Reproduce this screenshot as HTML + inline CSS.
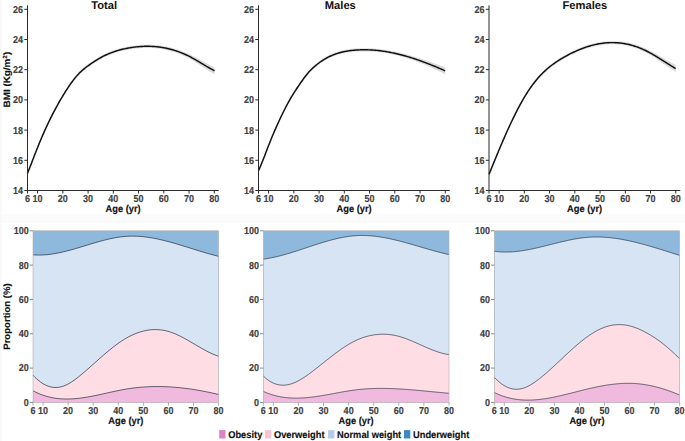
<!DOCTYPE html>
<html><head><meta charset="utf-8"><style>
html,body{margin:0;padding:0;background:#fff;}
svg{display:block;}
text{font-family:"Liberation Sans", sans-serif;text-rendering:geometricPrecision;}
.tk{font-size:9px;fill:#404040;font-weight:bold;stroke:#404040;stroke-width:0.15px;}
.lab{font-size:9.3px;fill:#111;font-weight:bold;stroke:#111;stroke-width:0.15px;}
.ttl{font-size:11.2px;fill:#111;font-weight:bold;}
</style></head><body>
<svg width="685" height="441" viewBox="0 0 685 441">
<rect x="0" y="0" width="685" height="441" fill="#fff"/>
<rect x="0" y="214" width="685" height="9" fill="#fbfbfb"/>
<rect x="0" y="0" width="1.5" height="441" fill="#f8f8f8"/>
<path d="M27.40,170.81 L28.40,168.47 L29.40,166.07 L30.40,163.60 L31.40,161.10 L32.40,158.56 L33.40,156.02 L34.40,153.47 L35.40,150.94 L36.40,148.45 L37.40,145.99 L38.40,143.57 L39.40,141.20 L40.40,138.86 L41.40,136.57 L42.40,134.31 L43.40,132.03 L44.40,129.78 L45.40,127.57 L46.40,125.39 L47.40,123.25 L48.40,121.14 L49.40,119.07 L50.40,117.03 L51.40,115.02 L52.40,113.05 L53.40,111.10 L54.40,109.19 L55.40,107.31 L56.40,105.46 L57.40,103.64 L58.40,101.85 L59.40,100.09 L60.40,98.35 L61.40,96.65 L62.40,94.97 L63.40,93.32 L64.40,91.70 L65.40,90.11 L66.40,88.54 L67.40,87.00 L68.40,85.49 L69.40,84.02 L70.40,82.57 L71.40,81.17 L72.40,79.80 L73.40,78.48 L74.40,77.19 L75.40,75.96 L76.40,74.76 L77.40,73.62 L78.40,72.53 L79.40,71.49 L80.40,70.50 L81.40,69.56 L82.40,68.67 L83.40,67.81 L84.40,66.99 L85.40,66.20 L86.40,65.44 L87.40,64.69 L88.40,63.96 L89.40,63.24 L90.40,62.53 L91.40,61.84 L92.40,61.15 L93.40,60.48 L94.40,59.82 L95.40,59.18 L96.40,58.55 L97.40,57.93 L98.40,57.33 L99.40,56.75 L100.40,56.19 L101.40,55.64 L102.40,55.12 L103.40,54.60 L104.40,54.11 L105.40,53.63 L106.40,53.17 L107.40,52.72 L108.40,52.29 L109.40,51.87 L110.40,51.47 L111.40,51.08 L112.40,50.71 L113.40,50.35 L114.40,50.00 L115.40,49.67 L116.40,49.35 L117.40,49.05 L118.40,48.75 L119.40,48.47 L120.40,48.20 L121.40,47.94 L122.40,47.70 L123.40,47.46 L124.40,47.24 L125.40,47.02 L126.40,46.82 L127.40,46.62 L128.40,46.44 L129.40,46.26 L130.40,46.10 L131.40,45.94 L132.40,45.79 L133.40,45.65 L134.40,45.52 L135.40,45.40 L136.40,45.29 L137.40,45.19 L138.40,45.09 L139.40,45.01 L140.40,44.94 L141.40,44.87 L142.40,44.82 L143.40,44.78 L144.40,44.74 L145.40,44.72 L146.40,44.70 L147.40,44.70 L148.40,44.71 L149.40,44.72 L150.40,44.75 L151.40,44.79 L152.40,44.84 L153.40,44.90 L154.40,44.97 L155.40,45.05 L156.40,45.14 L157.40,45.24 L158.40,45.35 L159.40,45.48 L160.40,45.61 L161.40,45.76 L162.40,45.91 L163.40,46.08 L164.40,46.25 L165.40,46.44 L166.40,46.63 L167.40,46.84 L168.40,47.06 L169.40,47.29 L170.40,47.53 L171.40,47.78 L172.40,48.04 L173.40,48.31 L174.40,48.59 L175.40,48.89 L176.40,49.19 L177.40,49.51 L178.40,49.84 L179.40,50.18 L180.40,50.53 L181.40,50.90 L182.40,51.27 L183.40,51.66 L184.40,52.06 L185.40,52.47 L186.40,52.90 L187.40,53.33 L188.40,53.78 L189.40,54.24 L190.40,54.72 L191.40,55.21 L192.40,55.70 L193.40,56.21 L194.40,56.73 L195.40,57.25 L196.40,57.78 L197.40,58.31 L198.40,58.85 L199.40,59.40 L200.40,59.94 L201.40,60.49 L202.40,61.03 L203.40,61.57 L204.40,62.12 L205.40,62.66 L206.40,63.19 L207.40,63.72 L208.40,64.24 L209.40,64.75 L210.40,65.26 L211.40,65.75 L212.40,66.24 L213.40,66.71 L214.40,67.17 L214.50,67.21 L214.50,74.40 L214.40,74.34 L213.40,73.74 L212.40,73.13 L211.40,72.51 L210.40,71.88 L209.40,71.25 L208.40,70.60 L207.40,69.96 L206.40,69.31 L205.40,68.65 L204.40,68.00 L203.40,67.34 L202.40,66.68 L201.40,66.03 L200.40,65.37 L199.40,64.72 L198.40,64.08 L197.40,63.44 L196.40,62.80 L195.40,62.18 L194.40,61.56 L193.40,60.96 L192.40,60.36 L191.40,59.78 L190.40,59.21 L189.40,58.66 L188.40,58.12 L187.40,57.60 L186.40,57.09 L185.40,56.59 L184.40,56.11 L183.40,55.65 L182.40,55.20 L181.40,54.76 L180.40,54.34 L179.40,53.94 L178.40,53.54 L177.40,53.16 L176.40,52.80 L175.40,52.45 L174.40,52.11 L173.40,51.79 L172.40,51.48 L171.40,51.19 L170.40,50.91 L169.40,50.64 L168.40,50.38 L167.40,50.14 L166.40,49.91 L165.40,49.70 L164.40,49.50 L163.40,49.31 L162.40,49.13 L161.40,48.97 L160.40,48.82 L159.40,48.68 L158.40,48.55 L157.40,48.44 L156.40,48.34 L155.40,48.25 L154.40,48.17 L153.40,48.10 L152.40,48.04 L151.40,47.99 L150.40,47.95 L149.40,47.92 L148.40,47.91 L147.40,47.90 L146.40,47.90 L145.40,47.92 L144.40,47.94 L143.40,47.98 L142.40,48.02 L141.40,48.07 L140.40,48.14 L139.40,48.21 L138.40,48.29 L137.40,48.39 L136.40,48.49 L135.40,48.60 L134.40,48.72 L133.40,48.85 L132.40,48.99 L131.40,49.14 L130.40,49.30 L129.40,49.46 L128.40,49.64 L127.40,49.82 L126.40,50.02 L125.40,50.22 L124.40,50.44 L123.40,50.66 L122.40,50.90 L121.40,51.14 L120.40,51.40 L119.40,51.67 L118.40,51.95 L117.40,52.25 L116.40,52.55 L115.40,52.87 L114.40,53.20 L113.40,53.55 L112.40,53.91 L111.40,54.28 L110.40,54.67 L109.40,55.07 L108.40,55.49 L107.40,55.92 L106.40,56.37 L105.40,56.83 L104.40,57.31 L103.40,57.80 L102.40,58.32 L101.40,58.84 L100.40,59.39 L99.40,59.95 L98.40,60.53 L97.40,61.13 L96.40,61.75 L95.40,62.38 L94.40,63.02 L93.40,63.68 L92.40,64.35 L91.40,65.04 L90.40,65.73 L89.40,66.44 L88.40,67.16 L87.40,67.89 L86.40,68.64 L85.40,69.40 L84.40,70.19 L83.40,71.01 L82.40,71.87 L81.40,72.76 L80.40,73.70 L79.40,74.69 L78.40,75.73 L77.40,76.82 L76.40,77.96 L75.40,79.16 L74.40,80.39 L73.40,81.68 L72.40,83.00 L71.40,84.37 L70.40,85.77 L69.40,87.22 L68.40,88.69 L67.40,90.20 L66.40,91.74 L65.40,93.31 L64.40,94.90 L63.40,96.52 L62.40,98.17 L61.40,99.85 L60.40,101.55 L59.40,103.29 L58.40,105.05 L57.40,106.84 L56.40,108.66 L55.40,110.51 L54.40,112.39 L53.40,114.30 L52.40,116.25 L51.40,118.22 L50.40,120.23 L49.40,122.27 L48.40,124.34 L47.40,126.45 L46.40,128.59 L45.40,130.77 L44.40,132.98 L43.40,135.23 L42.40,137.52 L41.40,139.91 L40.40,142.34 L39.40,144.81 L38.40,147.32 L37.40,149.87 L36.40,152.46 L35.40,155.09 L34.40,157.75 L33.40,160.43 L32.40,163.11 L31.40,165.78 L30.40,168.42 L29.40,171.01 L28.40,173.55 L27.40,176.02 Z" fill="#bdbdbd" fill-opacity="0.55"/>
<path d="M27.40,173.42 L28.40,171.01 L29.40,168.54 L30.40,166.01 L31.40,163.44 L32.40,160.84 L33.40,158.22 L34.40,155.61 L35.40,153.02 L36.40,150.45 L37.40,147.93 L38.40,145.44 L39.40,143.00 L40.40,140.60 L41.40,138.24 L42.40,135.91 L43.40,133.63 L44.40,131.38 L45.40,129.17 L46.40,126.99 L47.40,124.85 L48.40,122.74 L49.40,120.67 L50.40,118.63 L51.40,116.62 L52.40,114.65 L53.40,112.70 L54.40,110.79 L55.40,108.91 L56.40,107.06 L57.40,105.24 L58.40,103.45 L59.40,101.69 L60.40,99.95 L61.40,98.25 L62.40,96.57 L63.40,94.92 L64.40,93.30 L65.40,91.71 L66.40,90.14 L67.40,88.60 L68.40,87.09 L69.40,85.62 L70.40,84.17 L71.40,82.77 L72.40,81.40 L73.40,80.08 L74.40,78.79 L75.40,77.56 L76.40,76.36 L77.40,75.22 L78.40,74.13 L79.40,73.09 L80.40,72.10 L81.40,71.16 L82.40,70.27 L83.40,69.41 L84.40,68.59 L85.40,67.80 L86.40,67.04 L87.40,66.29 L88.40,65.56 L89.40,64.84 L90.40,64.13 L91.40,63.44 L92.40,62.75 L93.40,62.08 L94.40,61.42 L95.40,60.78 L96.40,60.15 L97.40,59.53 L98.40,58.93 L99.40,58.35 L100.40,57.79 L101.40,57.24 L102.40,56.72 L103.40,56.20 L104.40,55.71 L105.40,55.23 L106.40,54.77 L107.40,54.32 L108.40,53.89 L109.40,53.47 L110.40,53.07 L111.40,52.68 L112.40,52.31 L113.40,51.95 L114.40,51.60 L115.40,51.27 L116.40,50.95 L117.40,50.65 L118.40,50.35 L119.40,50.07 L120.40,49.80 L121.40,49.54 L122.40,49.30 L123.40,49.06 L124.40,48.84 L125.40,48.62 L126.40,48.42 L127.40,48.22 L128.40,48.04 L129.40,47.86 L130.40,47.70 L131.40,47.54 L132.40,47.39 L133.40,47.25 L134.40,47.12 L135.40,47.00 L136.40,46.89 L137.40,46.79 L138.40,46.69 L139.40,46.61 L140.40,46.54 L141.40,46.47 L142.40,46.42 L143.40,46.38 L144.40,46.34 L145.40,46.32 L146.40,46.30 L147.40,46.30 L148.40,46.31 L149.40,46.32 L150.40,46.35 L151.40,46.39 L152.40,46.44 L153.40,46.50 L154.40,46.57 L155.40,46.65 L156.40,46.74 L157.40,46.84 L158.40,46.95 L159.40,47.08 L160.40,47.22 L161.40,47.36 L162.40,47.52 L163.40,47.69 L164.40,47.87 L165.40,48.07 L166.40,48.27 L167.40,48.49 L168.40,48.72 L169.40,48.96 L170.40,49.22 L171.40,49.48 L172.40,49.76 L173.40,50.05 L174.40,50.35 L175.40,50.67 L176.40,51.00 L177.40,51.34 L178.40,51.69 L179.40,52.06 L180.40,52.44 L181.40,52.83 L182.40,53.24 L183.40,53.65 L184.40,54.09 L185.40,54.53 L186.40,54.99 L187.40,55.47 L188.40,55.95 L189.40,56.45 L190.40,56.97 L191.40,57.49 L192.40,58.03 L193.40,58.58 L194.40,59.14 L195.40,59.71 L196.40,60.29 L197.40,60.88 L198.40,61.46 L199.40,62.06 L200.40,62.66 L201.40,63.26 L202.40,63.86 L203.40,64.46 L204.40,65.06 L205.40,65.65 L206.40,66.25 L207.40,66.84 L208.40,67.42 L209.40,68.00 L210.40,68.57 L211.40,69.13 L212.40,69.68 L213.40,70.22 L214.40,70.75 L214.50,70.80" fill="none" stroke="#111" stroke-width="1.45" stroke-linejoin="round"/>
<line x1="27.50" y1="5.3" x2="27.50" y2="191.00" stroke="#2b2b2b" stroke-width="1"/>
<line x1="27.00" y1="190.50" x2="218.80" y2="190.50" stroke="#2b2b2b" stroke-width="1"/>
<line x1="24.30" y1="190.50" x2="27.50" y2="190.50" stroke="#2b2b2b" stroke-width="1"/>
<text transform="translate(23.10,193.90) scale(1.0,1.12)" text-anchor="end" class="tk">14</text>
<line x1="24.30" y1="160.30" x2="27.50" y2="160.30" stroke="#2b2b2b" stroke-width="1"/>
<text transform="translate(23.10,163.70) scale(1.0,1.12)" text-anchor="end" class="tk">16</text>
<line x1="24.30" y1="130.10" x2="27.50" y2="130.10" stroke="#2b2b2b" stroke-width="1"/>
<text transform="translate(23.10,133.50) scale(1.0,1.12)" text-anchor="end" class="tk">18</text>
<line x1="24.30" y1="99.90" x2="27.50" y2="99.90" stroke="#2b2b2b" stroke-width="1"/>
<text transform="translate(23.10,103.30) scale(1.0,1.12)" text-anchor="end" class="tk">20</text>
<line x1="24.30" y1="69.70" x2="27.50" y2="69.70" stroke="#2b2b2b" stroke-width="1"/>
<text transform="translate(23.10,73.10) scale(1.0,1.12)" text-anchor="end" class="tk">22</text>
<line x1="24.30" y1="39.50" x2="27.50" y2="39.50" stroke="#2b2b2b" stroke-width="1"/>
<text transform="translate(23.10,42.90) scale(1.0,1.12)" text-anchor="end" class="tk">24</text>
<line x1="24.30" y1="9.30" x2="27.50" y2="9.30" stroke="#2b2b2b" stroke-width="1"/>
<text transform="translate(23.10,12.70) scale(1.0,1.12)" text-anchor="end" class="tk">26</text>
<line x1="27.50" y1="190.50" x2="27.50" y2="193.50" stroke="#2b2b2b" stroke-width="1"/>
<text transform="translate(27.50,201.80) scale(1.0,1.12)" text-anchor="middle" class="tk">6</text>
<line x1="37.60" y1="190.50" x2="37.60" y2="193.50" stroke="#2b2b2b" stroke-width="1"/>
<text transform="translate(37.60,201.80) scale(1.0,1.12)" text-anchor="middle" class="tk">10</text>
<line x1="62.84" y1="190.50" x2="62.84" y2="193.50" stroke="#2b2b2b" stroke-width="1"/>
<text transform="translate(62.84,201.80) scale(1.0,1.12)" text-anchor="middle" class="tk">20</text>
<line x1="88.08" y1="190.50" x2="88.08" y2="193.50" stroke="#2b2b2b" stroke-width="1"/>
<text transform="translate(88.08,201.80) scale(1.0,1.12)" text-anchor="middle" class="tk">30</text>
<line x1="113.32" y1="190.50" x2="113.32" y2="193.50" stroke="#2b2b2b" stroke-width="1"/>
<text transform="translate(113.32,201.80) scale(1.0,1.12)" text-anchor="middle" class="tk">40</text>
<line x1="138.56" y1="190.50" x2="138.56" y2="193.50" stroke="#2b2b2b" stroke-width="1"/>
<text transform="translate(138.56,201.80) scale(1.0,1.12)" text-anchor="middle" class="tk">50</text>
<line x1="163.80" y1="190.50" x2="163.80" y2="193.50" stroke="#2b2b2b" stroke-width="1"/>
<text transform="translate(163.80,201.80) scale(1.0,1.12)" text-anchor="middle" class="tk">60</text>
<line x1="189.04" y1="190.50" x2="189.04" y2="193.50" stroke="#2b2b2b" stroke-width="1"/>
<text transform="translate(189.04,201.80) scale(1.0,1.12)" text-anchor="middle" class="tk">70</text>
<line x1="214.28" y1="190.50" x2="214.28" y2="193.50" stroke="#2b2b2b" stroke-width="1"/>
<text transform="translate(214.28,201.80) scale(1.0,1.12)" text-anchor="middle" class="tk">80</text>
<text transform="translate(123.15,211.50) scale(1.0,1.06)" text-anchor="middle" class="lab">Age (yr)</text>
<text transform="translate(104.10,8.60)" text-anchor="middle" class="ttl">Total</text>
<path d="M258.60,167.91 L259.60,165.73 L260.60,163.46 L261.60,161.11 L262.60,158.70 L263.60,156.23 L264.60,153.72 L265.60,151.19 L266.60,148.64 L267.60,146.10 L268.60,143.58 L269.60,141.08 L270.60,138.63 L271.60,136.23 L272.60,133.89 L273.60,131.59 L274.60,129.27 L275.60,126.99 L276.60,124.74 L277.60,122.53 L278.60,120.34 L279.60,118.18 L280.60,116.05 L281.60,113.96 L282.60,111.90 L283.60,109.87 L284.60,107.89 L285.60,105.94 L286.60,104.03 L287.60,102.16 L288.60,100.33 L289.60,98.55 L290.60,96.82 L291.60,95.12 L292.60,93.46 L293.60,91.84 L294.60,90.25 L295.60,88.70 L296.60,87.17 L297.60,85.67 L298.60,84.19 L299.60,82.73 L300.60,81.29 L301.60,79.87 L302.60,78.46 L303.60,77.06 L304.60,75.70 L305.60,74.38 L306.60,73.11 L307.60,71.90 L308.60,70.76 L309.60,69.68 L310.60,68.65 L311.60,67.66 L312.60,66.70 L313.60,65.78 L314.60,64.88 L315.60,64.02 L316.60,63.19 L317.60,62.39 L318.60,61.61 L319.60,60.87 L320.60,60.15 L321.60,59.46 L322.60,58.80 L323.60,58.17 L324.60,57.56 L325.60,56.97 L326.60,56.41 L327.60,55.88 L328.60,55.36 L329.60,54.87 L330.60,54.41 L331.60,53.96 L332.60,53.54 L333.60,53.14 L334.60,52.76 L335.60,52.40 L336.60,52.05 L337.60,51.73 L338.60,51.42 L339.60,51.14 L340.60,50.87 L341.60,50.61 L342.60,50.37 L343.60,50.15 L344.60,49.94 L345.60,49.75 L346.60,49.57 L347.60,49.41 L348.60,49.25 L349.60,49.11 L350.60,48.98 L351.60,48.86 L352.60,48.76 L353.60,48.66 L354.60,48.57 L355.60,48.49 L356.60,48.42 L357.60,48.36 L358.60,48.31 L359.60,48.27 L360.60,48.23 L361.60,48.20 L362.60,48.19 L363.60,48.18 L364.60,48.17 L365.60,48.18 L366.60,48.20 L367.60,48.22 L368.60,48.25 L369.60,48.29 L370.60,48.34 L371.60,48.39 L372.60,48.46 L373.60,48.53 L374.60,48.60 L375.60,48.69 L376.60,48.78 L377.60,48.88 L378.60,48.99 L379.60,49.11 L380.60,49.23 L381.60,49.36 L382.60,49.50 L383.60,49.64 L384.60,49.79 L385.60,49.95 L386.60,50.11 L387.60,50.29 L388.60,50.46 L389.60,50.65 L390.60,50.84 L391.60,51.03 L392.60,51.24 L393.60,51.44 L394.60,51.65 L395.60,51.87 L396.60,52.09 L397.60,52.31 L398.60,52.54 L399.60,52.78 L400.60,53.02 L401.60,53.26 L402.60,53.51 L403.60,53.76 L404.60,54.02 L405.60,54.28 L406.60,54.55 L407.60,54.82 L408.60,55.09 L409.60,55.37 L410.60,55.65 L411.60,55.93 L412.60,56.22 L413.60,56.51 L414.60,56.81 L415.60,57.11 L416.60,57.41 L417.60,57.72 L418.60,58.03 L419.60,58.34 L420.60,58.66 L421.60,58.98 L422.60,59.30 L423.60,59.63 L424.60,59.96 L425.60,60.29 L426.60,60.62 L427.60,60.96 L428.60,61.30 L429.60,61.64 L430.60,61.99 L431.60,62.33 L432.60,62.68 L433.60,63.03 L434.60,63.39 L435.60,63.74 L436.60,64.10 L437.60,64.46 L438.60,64.82 L439.60,65.19 L440.60,65.55 L441.60,65.92 L442.60,66.29 L443.60,66.66 L444.60,67.03 L445.20,67.26 L445.20,74.40 L444.60,74.09 L443.60,73.58 L442.60,73.08 L441.60,72.57 L440.60,72.07 L439.60,71.58 L438.60,71.09 L437.60,70.60 L436.60,70.12 L435.60,69.65 L434.60,69.17 L433.60,68.71 L432.60,68.24 L431.60,67.79 L430.60,67.33 L429.60,66.88 L428.60,66.44 L427.60,66.00 L426.60,65.57 L425.60,65.14 L424.60,64.72 L423.60,64.31 L422.60,63.90 L421.60,63.49 L420.60,63.09 L419.60,62.70 L418.60,62.31 L417.60,61.92 L416.60,61.55 L415.60,61.18 L414.60,60.81 L413.60,60.45 L412.60,60.10 L411.60,59.75 L410.60,59.41 L409.60,59.08 L408.60,58.75 L407.60,58.43 L406.60,58.12 L405.60,57.81 L404.60,57.51 L403.60,57.22 L402.60,56.93 L401.60,56.65 L400.60,56.38 L399.60,56.11 L398.60,55.85 L397.60,55.60 L396.60,55.35 L395.60,55.12 L394.60,54.89 L393.60,54.66 L392.60,54.45 L391.60,54.24 L390.60,54.04 L389.60,53.85 L388.60,53.66 L387.60,53.49 L386.60,53.31 L385.60,53.15 L384.60,52.99 L383.60,52.84 L382.60,52.70 L381.60,52.56 L380.60,52.43 L379.60,52.31 L378.60,52.19 L377.60,52.08 L376.60,51.98 L375.60,51.89 L374.60,51.80 L373.60,51.73 L372.60,51.66 L371.60,51.59 L370.60,51.54 L369.60,51.49 L368.60,51.45 L367.60,51.42 L366.60,51.40 L365.60,51.38 L364.60,51.37 L363.60,51.38 L362.60,51.39 L361.60,51.40 L360.60,51.43 L359.60,51.47 L358.60,51.51 L357.60,51.56 L356.60,51.62 L355.60,51.69 L354.60,51.77 L353.60,51.86 L352.60,51.96 L351.60,52.06 L350.60,52.18 L349.60,52.31 L348.60,52.45 L347.60,52.61 L346.60,52.77 L345.60,52.95 L344.60,53.14 L343.60,53.35 L342.60,53.57 L341.60,53.81 L340.60,54.07 L339.60,54.34 L338.60,54.62 L337.60,54.93 L336.60,55.25 L335.60,55.60 L334.60,55.96 L333.60,56.34 L332.60,56.74 L331.60,57.16 L330.60,57.61 L329.60,58.07 L328.60,58.56 L327.60,59.08 L326.60,59.61 L325.60,60.17 L324.60,60.76 L323.60,61.37 L322.60,62.00 L321.60,62.66 L320.60,63.35 L319.60,64.07 L318.60,64.81 L317.60,65.59 L316.60,66.39 L315.60,67.22 L314.60,68.08 L313.60,68.98 L312.60,69.90 L311.60,70.86 L310.60,71.85 L309.60,72.88 L308.60,73.96 L307.60,75.10 L306.60,76.31 L305.60,77.58 L304.60,78.90 L303.60,80.26 L302.60,81.66 L301.60,83.07 L300.60,84.49 L299.60,85.93 L298.60,87.39 L297.60,88.87 L296.60,90.37 L295.60,91.90 L294.60,93.45 L293.60,95.04 L292.60,96.66 L291.60,98.32 L290.60,100.02 L289.60,101.75 L288.60,103.53 L287.60,105.36 L286.60,107.23 L285.60,109.14 L284.60,111.09 L283.60,113.07 L282.60,115.10 L281.60,117.16 L280.60,119.25 L279.60,121.38 L278.60,123.54 L277.60,125.73 L276.60,127.94 L275.60,130.19 L274.60,132.47 L273.60,134.79 L272.60,137.21 L271.60,139.68 L270.60,142.21 L269.60,144.80 L268.60,147.43 L267.60,150.09 L266.60,152.76 L265.60,155.44 L264.60,158.11 L263.60,160.75 L262.60,163.35 L261.60,165.90 L260.60,168.38 L259.60,170.79 L258.60,173.10 Z" fill="#bdbdbd" fill-opacity="0.55"/>
<path d="M258.60,170.50 L259.60,168.26 L260.60,165.92 L261.60,163.51 L262.60,161.02 L263.60,158.49 L264.60,155.91 L265.60,153.31 L266.60,150.70 L267.60,148.09 L268.60,145.50 L269.60,142.94 L270.60,140.42 L271.60,137.96 L272.60,135.55 L273.60,133.19 L274.60,130.87 L275.60,128.59 L276.60,126.34 L277.60,124.13 L278.60,121.94 L279.60,119.78 L280.60,117.65 L281.60,115.56 L282.60,113.50 L283.60,111.47 L284.60,109.49 L285.60,107.54 L286.60,105.63 L287.60,103.76 L288.60,101.93 L289.60,100.15 L290.60,98.42 L291.60,96.72 L292.60,95.06 L293.60,93.44 L294.60,91.85 L295.60,90.30 L296.60,88.77 L297.60,87.27 L298.60,85.79 L299.60,84.33 L300.60,82.89 L301.60,81.47 L302.60,80.06 L303.60,78.66 L304.60,77.30 L305.60,75.98 L306.60,74.71 L307.60,73.50 L308.60,72.36 L309.60,71.28 L310.60,70.25 L311.60,69.26 L312.60,68.30 L313.60,67.38 L314.60,66.48 L315.60,65.62 L316.60,64.79 L317.60,63.99 L318.60,63.21 L319.60,62.47 L320.60,61.75 L321.60,61.06 L322.60,60.40 L323.60,59.77 L324.60,59.16 L325.60,58.57 L326.60,58.01 L327.60,57.48 L328.60,56.96 L329.60,56.47 L330.60,56.01 L331.60,55.56 L332.60,55.14 L333.60,54.74 L334.60,54.36 L335.60,54.00 L336.60,53.65 L337.60,53.33 L338.60,53.02 L339.60,52.74 L340.60,52.47 L341.60,52.21 L342.60,51.97 L343.60,51.75 L344.60,51.54 L345.60,51.35 L346.60,51.17 L347.60,51.01 L348.60,50.85 L349.60,50.71 L350.60,50.58 L351.60,50.46 L352.60,50.36 L353.60,50.26 L354.60,50.17 L355.60,50.09 L356.60,50.02 L357.60,49.96 L358.60,49.91 L359.60,49.87 L360.60,49.83 L361.60,49.80 L362.60,49.79 L363.60,49.78 L364.60,49.77 L365.60,49.78 L366.60,49.80 L367.60,49.82 L368.60,49.85 L369.60,49.89 L370.60,49.94 L371.60,49.99 L372.60,50.06 L373.60,50.13 L374.60,50.20 L375.60,50.29 L376.60,50.38 L377.60,50.48 L378.60,50.59 L379.60,50.71 L380.60,50.83 L381.60,50.96 L382.60,51.10 L383.60,51.24 L384.60,51.39 L385.60,51.55 L386.60,51.71 L387.60,51.89 L388.60,52.06 L389.60,52.25 L390.60,52.44 L391.60,52.64 L392.60,52.84 L393.60,53.05 L394.60,53.27 L395.60,53.49 L396.60,53.72 L397.60,53.96 L398.60,54.20 L399.60,54.44 L400.60,54.70 L401.60,54.96 L402.60,55.22 L403.60,55.49 L404.60,55.76 L405.60,56.05 L406.60,56.33 L407.60,56.62 L408.60,56.92 L409.60,57.22 L410.60,57.53 L411.60,57.84 L412.60,58.16 L413.60,58.48 L414.60,58.81 L415.60,59.14 L416.60,59.48 L417.60,59.82 L418.60,60.17 L419.60,60.52 L420.60,60.87 L421.60,61.23 L422.60,61.60 L423.60,61.97 L424.60,62.34 L425.60,62.72 L426.60,63.10 L427.60,63.48 L428.60,63.87 L429.60,64.26 L430.60,64.66 L431.60,65.06 L432.60,65.46 L433.60,65.87 L434.60,66.28 L435.60,66.69 L436.60,67.11 L437.60,67.53 L438.60,67.96 L439.60,68.38 L440.60,68.81 L441.60,69.25 L442.60,69.68 L443.60,70.12 L444.60,70.56 L445.20,70.83" fill="none" stroke="#111" stroke-width="1.45" stroke-linejoin="round"/>
<line x1="258.50" y1="5.3" x2="258.50" y2="191.00" stroke="#2b2b2b" stroke-width="1"/>
<line x1="258.00" y1="190.50" x2="449.80" y2="190.50" stroke="#2b2b2b" stroke-width="1"/>
<line x1="255.30" y1="190.50" x2="258.50" y2="190.50" stroke="#2b2b2b" stroke-width="1"/>
<text transform="translate(254.10,193.90) scale(1.0,1.12)" text-anchor="end" class="tk">14</text>
<line x1="255.30" y1="160.30" x2="258.50" y2="160.30" stroke="#2b2b2b" stroke-width="1"/>
<text transform="translate(254.10,163.70) scale(1.0,1.12)" text-anchor="end" class="tk">16</text>
<line x1="255.30" y1="130.10" x2="258.50" y2="130.10" stroke="#2b2b2b" stroke-width="1"/>
<text transform="translate(254.10,133.50) scale(1.0,1.12)" text-anchor="end" class="tk">18</text>
<line x1="255.30" y1="99.90" x2="258.50" y2="99.90" stroke="#2b2b2b" stroke-width="1"/>
<text transform="translate(254.10,103.30) scale(1.0,1.12)" text-anchor="end" class="tk">20</text>
<line x1="255.30" y1="69.70" x2="258.50" y2="69.70" stroke="#2b2b2b" stroke-width="1"/>
<text transform="translate(254.10,73.10) scale(1.0,1.12)" text-anchor="end" class="tk">22</text>
<line x1="255.30" y1="39.50" x2="258.50" y2="39.50" stroke="#2b2b2b" stroke-width="1"/>
<text transform="translate(254.10,42.90) scale(1.0,1.12)" text-anchor="end" class="tk">24</text>
<line x1="255.30" y1="9.30" x2="258.50" y2="9.30" stroke="#2b2b2b" stroke-width="1"/>
<text transform="translate(254.10,12.70) scale(1.0,1.12)" text-anchor="end" class="tk">26</text>
<line x1="258.50" y1="190.50" x2="258.50" y2="193.50" stroke="#2b2b2b" stroke-width="1"/>
<text transform="translate(258.50,201.80) scale(1.0,1.12)" text-anchor="middle" class="tk">6</text>
<line x1="268.60" y1="190.50" x2="268.60" y2="193.50" stroke="#2b2b2b" stroke-width="1"/>
<text transform="translate(268.60,201.80) scale(1.0,1.12)" text-anchor="middle" class="tk">10</text>
<line x1="293.84" y1="190.50" x2="293.84" y2="193.50" stroke="#2b2b2b" stroke-width="1"/>
<text transform="translate(293.84,201.80) scale(1.0,1.12)" text-anchor="middle" class="tk">20</text>
<line x1="319.08" y1="190.50" x2="319.08" y2="193.50" stroke="#2b2b2b" stroke-width="1"/>
<text transform="translate(319.08,201.80) scale(1.0,1.12)" text-anchor="middle" class="tk">30</text>
<line x1="344.32" y1="190.50" x2="344.32" y2="193.50" stroke="#2b2b2b" stroke-width="1"/>
<text transform="translate(344.32,201.80) scale(1.0,1.12)" text-anchor="middle" class="tk">40</text>
<line x1="369.56" y1="190.50" x2="369.56" y2="193.50" stroke="#2b2b2b" stroke-width="1"/>
<text transform="translate(369.56,201.80) scale(1.0,1.12)" text-anchor="middle" class="tk">50</text>
<line x1="394.80" y1="190.50" x2="394.80" y2="193.50" stroke="#2b2b2b" stroke-width="1"/>
<text transform="translate(394.80,201.80) scale(1.0,1.12)" text-anchor="middle" class="tk">60</text>
<line x1="420.04" y1="190.50" x2="420.04" y2="193.50" stroke="#2b2b2b" stroke-width="1"/>
<text transform="translate(420.04,201.80) scale(1.0,1.12)" text-anchor="middle" class="tk">70</text>
<line x1="445.28" y1="190.50" x2="445.28" y2="193.50" stroke="#2b2b2b" stroke-width="1"/>
<text transform="translate(445.28,201.80) scale(1.0,1.12)" text-anchor="middle" class="tk">80</text>
<text transform="translate(354.15,211.50) scale(1.0,1.06)" text-anchor="middle" class="lab">Age (yr)</text>
<text transform="translate(340.30,8.60)" text-anchor="middle" class="ttl">Males</text>
<path d="M489.00,171.73 L490.00,169.35 L491.00,166.97 L492.00,164.59 L493.00,162.22 L494.00,159.85 L495.00,157.49 L496.00,155.14 L497.00,152.79 L498.00,150.46 L499.00,148.13 L500.00,145.82 L501.00,143.53 L502.00,141.25 L503.00,138.99 L504.00,136.74 L505.00,134.45 L506.00,132.18 L507.00,129.94 L508.00,127.72 L509.00,125.52 L510.00,123.35 L511.00,121.21 L512.00,119.10 L513.00,117.02 L514.00,114.98 L515.00,112.96 L516.00,110.97 L517.00,109.02 L518.00,107.10 L519.00,105.21 L520.00,103.36 L521.00,101.54 L522.00,99.76 L523.00,98.02 L524.00,96.31 L525.00,94.64 L526.00,93.00 L527.00,91.41 L528.00,89.85 L529.00,88.33 L530.00,86.85 L531.00,85.42 L532.00,84.02 L533.00,82.67 L534.00,81.35 L535.00,80.08 L536.00,78.84 L537.00,77.64 L538.00,76.48 L539.00,75.35 L540.00,74.25 L541.00,73.19 L542.00,72.16 L543.00,71.16 L544.00,70.19 L545.00,69.25 L546.00,68.34 L547.00,67.45 L548.00,66.59 L549.00,65.76 L550.00,64.95 L551.00,64.17 L552.00,63.40 L553.00,62.66 L554.00,61.94 L555.00,61.23 L556.00,60.55 L557.00,59.88 L558.00,59.23 L559.00,58.59 L560.00,57.97 L561.00,57.36 L562.00,56.77 L563.00,56.18 L564.00,55.61 L565.00,55.04 L566.00,54.49 L567.00,53.94 L568.00,53.41 L569.00,52.88 L570.00,52.37 L571.00,51.86 L572.00,51.37 L573.00,50.88 L574.00,50.41 L575.00,49.95 L576.00,49.49 L577.00,49.05 L578.00,48.62 L579.00,48.20 L580.00,47.79 L581.00,47.40 L582.00,47.01 L583.00,46.63 L584.00,46.27 L585.00,45.92 L586.00,45.58 L587.00,45.25 L588.00,44.93 L589.00,44.62 L590.00,44.33 L591.00,44.04 L592.00,43.77 L593.00,43.51 L594.00,43.27 L595.00,43.03 L596.00,42.81 L597.00,42.60 L598.00,42.41 L599.00,42.22 L600.00,42.05 L601.00,41.89 L602.00,41.75 L603.00,41.61 L604.00,41.49 L605.00,41.39 L606.00,41.29 L607.00,41.21 L608.00,41.15 L609.00,41.09 L610.00,41.05 L611.00,41.03 L612.00,41.01 L613.00,41.01 L614.00,41.03 L615.00,41.06 L616.00,41.10 L617.00,41.16 L618.00,41.23 L619.00,41.31 L620.00,41.41 L621.00,41.53 L622.00,41.65 L623.00,41.79 L624.00,41.95 L625.00,42.11 L626.00,42.29 L627.00,42.49 L628.00,42.69 L629.00,42.91 L630.00,43.15 L631.00,43.39 L632.00,43.65 L633.00,43.92 L634.00,44.21 L635.00,44.51 L636.00,44.83 L637.00,45.15 L638.00,45.49 L639.00,45.85 L640.00,46.22 L641.00,46.60 L642.00,46.99 L643.00,47.40 L644.00,47.83 L645.00,48.26 L646.00,48.71 L647.00,49.18 L648.00,49.66 L649.00,50.15 L650.00,50.65 L651.00,51.16 L652.00,51.69 L653.00,52.22 L654.00,52.76 L655.00,53.31 L656.00,53.87 L657.00,54.43 L658.00,55.00 L659.00,55.57 L660.00,56.15 L661.00,56.72 L662.00,57.31 L663.00,57.89 L664.00,58.47 L665.00,59.05 L666.00,59.63 L667.00,60.21 L668.00,60.79 L669.00,61.36 L670.00,61.92 L671.00,62.49 L672.00,63.04 L673.00,63.59 L674.00,64.13 L675.00,64.66 L675.70,65.03 L675.70,72.17 L675.00,71.71 L674.00,71.04 L673.00,70.36 L672.00,69.68 L671.00,68.99 L670.00,68.30 L669.00,67.61 L668.00,66.91 L667.00,66.22 L666.00,65.52 L665.00,64.83 L664.00,64.13 L663.00,63.44 L662.00,62.75 L661.00,62.06 L660.00,61.38 L659.00,60.70 L658.00,60.03 L657.00,59.37 L656.00,58.72 L655.00,58.07 L654.00,57.43 L653.00,56.81 L652.00,56.19 L651.00,55.59 L650.00,55.00 L649.00,54.42 L648.00,53.86 L647.00,53.31 L646.00,52.78 L645.00,52.26 L644.00,51.76 L643.00,51.28 L642.00,50.81 L641.00,50.36 L640.00,49.93 L639.00,49.51 L638.00,49.11 L637.00,48.72 L636.00,48.35 L635.00,48.00 L634.00,47.66 L633.00,47.34 L632.00,47.03 L631.00,46.75 L630.00,46.47 L629.00,46.22 L628.00,45.97 L627.00,45.75 L626.00,45.54 L625.00,45.35 L624.00,45.17 L623.00,45.01 L622.00,44.86 L621.00,44.73 L620.00,44.61 L619.00,44.51 L618.00,44.43 L617.00,44.36 L616.00,44.30 L615.00,44.26 L614.00,44.23 L613.00,44.21 L612.00,44.21 L611.00,44.23 L610.00,44.25 L609.00,44.29 L608.00,44.35 L607.00,44.41 L606.00,44.49 L605.00,44.59 L604.00,44.69 L603.00,44.81 L602.00,44.95 L601.00,45.09 L600.00,45.25 L599.00,45.42 L598.00,45.61 L597.00,45.80 L596.00,46.01 L595.00,46.23 L594.00,46.47 L593.00,46.71 L592.00,46.97 L591.00,47.24 L590.00,47.53 L589.00,47.82 L588.00,48.13 L587.00,48.45 L586.00,48.78 L585.00,49.12 L584.00,49.47 L583.00,49.83 L582.00,50.21 L581.00,50.60 L580.00,50.99 L579.00,51.40 L578.00,51.82 L577.00,52.25 L576.00,52.69 L575.00,53.15 L574.00,53.61 L573.00,54.08 L572.00,54.57 L571.00,55.06 L570.00,55.57 L569.00,56.08 L568.00,56.61 L567.00,57.14 L566.00,57.69 L565.00,58.24 L564.00,58.81 L563.00,59.38 L562.00,59.97 L561.00,60.56 L560.00,61.17 L559.00,61.79 L558.00,62.43 L557.00,63.08 L556.00,63.75 L555.00,64.43 L554.00,65.14 L553.00,65.86 L552.00,66.60 L551.00,67.37 L550.00,68.15 L549.00,68.96 L548.00,69.79 L547.00,70.65 L546.00,71.54 L545.00,72.45 L544.00,73.39 L543.00,74.36 L542.00,75.36 L541.00,76.39 L540.00,77.45 L539.00,78.55 L538.00,79.68 L537.00,80.84 L536.00,82.04 L535.00,83.28 L534.00,84.55 L533.00,85.87 L532.00,87.22 L531.00,88.62 L530.00,90.05 L529.00,91.53 L528.00,93.05 L527.00,94.61 L526.00,96.20 L525.00,97.84 L524.00,99.51 L523.00,101.22 L522.00,102.96 L521.00,104.74 L520.00,106.56 L519.00,108.41 L518.00,110.30 L517.00,112.22 L516.00,114.17 L515.00,116.16 L514.00,118.18 L513.00,120.22 L512.00,122.30 L511.00,124.41 L510.00,126.55 L509.00,128.72 L508.00,130.92 L507.00,133.14 L506.00,135.38 L505.00,137.65 L504.00,139.94 L503.00,142.32 L502.00,144.71 L501.00,147.12 L500.00,149.55 L499.00,152.00 L498.00,154.45 L497.00,156.92 L496.00,159.40 L495.00,161.89 L494.00,164.38 L493.00,166.89 L492.00,169.39 L491.00,171.90 L490.00,174.41 L489.00,176.93 Z" fill="#bdbdbd" fill-opacity="0.55"/>
<path d="M489.00,174.33 L490.00,171.88 L491.00,169.44 L492.00,166.99 L493.00,164.55 L494.00,162.12 L495.00,159.69 L496.00,157.27 L497.00,154.86 L498.00,152.46 L499.00,150.07 L500.00,147.69 L501.00,145.33 L502.00,142.98 L503.00,140.65 L504.00,138.34 L505.00,136.05 L506.00,133.78 L507.00,131.54 L508.00,129.32 L509.00,127.12 L510.00,124.95 L511.00,122.81 L512.00,120.70 L513.00,118.62 L514.00,116.58 L515.00,114.56 L516.00,112.57 L517.00,110.62 L518.00,108.70 L519.00,106.81 L520.00,104.96 L521.00,103.14 L522.00,101.36 L523.00,99.62 L524.00,97.91 L525.00,96.24 L526.00,94.60 L527.00,93.01 L528.00,91.45 L529.00,89.93 L530.00,88.45 L531.00,87.02 L532.00,85.62 L533.00,84.27 L534.00,82.95 L535.00,81.68 L536.00,80.44 L537.00,79.24 L538.00,78.08 L539.00,76.95 L540.00,75.85 L541.00,74.79 L542.00,73.76 L543.00,72.76 L544.00,71.79 L545.00,70.85 L546.00,69.94 L547.00,69.05 L548.00,68.19 L549.00,67.36 L550.00,66.55 L551.00,65.77 L552.00,65.00 L553.00,64.26 L554.00,63.54 L555.00,62.83 L556.00,62.15 L557.00,61.48 L558.00,60.83 L559.00,60.19 L560.00,59.57 L561.00,58.96 L562.00,58.37 L563.00,57.78 L564.00,57.21 L565.00,56.64 L566.00,56.09 L567.00,55.54 L568.00,55.01 L569.00,54.48 L570.00,53.97 L571.00,53.46 L572.00,52.97 L573.00,52.48 L574.00,52.01 L575.00,51.55 L576.00,51.09 L577.00,50.65 L578.00,50.22 L579.00,49.80 L580.00,49.39 L581.00,49.00 L582.00,48.61 L583.00,48.23 L584.00,47.87 L585.00,47.52 L586.00,47.18 L587.00,46.85 L588.00,46.53 L589.00,46.22 L590.00,45.93 L591.00,45.64 L592.00,45.37 L593.00,45.11 L594.00,44.87 L595.00,44.63 L596.00,44.41 L597.00,44.20 L598.00,44.01 L599.00,43.82 L600.00,43.65 L601.00,43.49 L602.00,43.35 L603.00,43.21 L604.00,43.09 L605.00,42.99 L606.00,42.89 L607.00,42.81 L608.00,42.75 L609.00,42.69 L610.00,42.65 L611.00,42.63 L612.00,42.61 L613.00,42.61 L614.00,42.63 L615.00,42.66 L616.00,42.70 L617.00,42.76 L618.00,42.83 L619.00,42.91 L620.00,43.01 L621.00,43.13 L622.00,43.26 L623.00,43.40 L624.00,43.56 L625.00,43.73 L626.00,43.92 L627.00,44.12 L628.00,44.33 L629.00,44.56 L630.00,44.81 L631.00,45.07 L632.00,45.34 L633.00,45.63 L634.00,45.94 L635.00,46.26 L636.00,46.59 L637.00,46.94 L638.00,47.30 L639.00,47.68 L640.00,48.07 L641.00,48.48 L642.00,48.90 L643.00,49.34 L644.00,49.79 L645.00,50.26 L646.00,50.74 L647.00,51.24 L648.00,51.76 L649.00,52.28 L650.00,52.82 L651.00,53.38 L652.00,53.94 L653.00,54.51 L654.00,55.10 L655.00,55.69 L656.00,56.29 L657.00,56.90 L658.00,57.52 L659.00,58.14 L660.00,58.76 L661.00,59.39 L662.00,60.03 L663.00,60.66 L664.00,61.30 L665.00,61.94 L666.00,62.58 L667.00,63.21 L668.00,63.85 L669.00,64.48 L670.00,65.11 L671.00,65.74 L672.00,66.36 L673.00,66.98 L674.00,67.58 L675.00,68.19 L675.70,68.60" fill="none" stroke="#111" stroke-width="1.45" stroke-linejoin="round"/>
<line x1="489.00" y1="5.3" x2="489.00" y2="191.00" stroke="#2b2b2b" stroke-width="1"/>
<line x1="488.50" y1="190.50" x2="680.30" y2="190.50" stroke="#2b2b2b" stroke-width="1"/>
<line x1="485.80" y1="190.50" x2="489.00" y2="190.50" stroke="#2b2b2b" stroke-width="1"/>
<text transform="translate(484.60,193.90) scale(1.0,1.12)" text-anchor="end" class="tk">14</text>
<line x1="485.80" y1="160.30" x2="489.00" y2="160.30" stroke="#2b2b2b" stroke-width="1"/>
<text transform="translate(484.60,163.70) scale(1.0,1.12)" text-anchor="end" class="tk">16</text>
<line x1="485.80" y1="130.10" x2="489.00" y2="130.10" stroke="#2b2b2b" stroke-width="1"/>
<text transform="translate(484.60,133.50) scale(1.0,1.12)" text-anchor="end" class="tk">18</text>
<line x1="485.80" y1="99.90" x2="489.00" y2="99.90" stroke="#2b2b2b" stroke-width="1"/>
<text transform="translate(484.60,103.30) scale(1.0,1.12)" text-anchor="end" class="tk">20</text>
<line x1="485.80" y1="69.70" x2="489.00" y2="69.70" stroke="#2b2b2b" stroke-width="1"/>
<text transform="translate(484.60,73.10) scale(1.0,1.12)" text-anchor="end" class="tk">22</text>
<line x1="485.80" y1="39.50" x2="489.00" y2="39.50" stroke="#2b2b2b" stroke-width="1"/>
<text transform="translate(484.60,42.90) scale(1.0,1.12)" text-anchor="end" class="tk">24</text>
<line x1="485.80" y1="9.30" x2="489.00" y2="9.30" stroke="#2b2b2b" stroke-width="1"/>
<text transform="translate(484.60,12.70) scale(1.0,1.12)" text-anchor="end" class="tk">26</text>
<line x1="489.00" y1="190.50" x2="489.00" y2="193.50" stroke="#2b2b2b" stroke-width="1"/>
<text transform="translate(489.00,201.80) scale(1.0,1.12)" text-anchor="middle" class="tk">6</text>
<line x1="499.10" y1="190.50" x2="499.10" y2="193.50" stroke="#2b2b2b" stroke-width="1"/>
<text transform="translate(499.10,201.80) scale(1.0,1.12)" text-anchor="middle" class="tk">10</text>
<line x1="524.34" y1="190.50" x2="524.34" y2="193.50" stroke="#2b2b2b" stroke-width="1"/>
<text transform="translate(524.34,201.80) scale(1.0,1.12)" text-anchor="middle" class="tk">20</text>
<line x1="549.58" y1="190.50" x2="549.58" y2="193.50" stroke="#2b2b2b" stroke-width="1"/>
<text transform="translate(549.58,201.80) scale(1.0,1.12)" text-anchor="middle" class="tk">30</text>
<line x1="574.82" y1="190.50" x2="574.82" y2="193.50" stroke="#2b2b2b" stroke-width="1"/>
<text transform="translate(574.82,201.80) scale(1.0,1.12)" text-anchor="middle" class="tk">40</text>
<line x1="600.06" y1="190.50" x2="600.06" y2="193.50" stroke="#2b2b2b" stroke-width="1"/>
<text transform="translate(600.06,201.80) scale(1.0,1.12)" text-anchor="middle" class="tk">50</text>
<line x1="625.30" y1="190.50" x2="625.30" y2="193.50" stroke="#2b2b2b" stroke-width="1"/>
<text transform="translate(625.30,201.80) scale(1.0,1.12)" text-anchor="middle" class="tk">60</text>
<line x1="650.54" y1="190.50" x2="650.54" y2="193.50" stroke="#2b2b2b" stroke-width="1"/>
<text transform="translate(650.54,201.80) scale(1.0,1.12)" text-anchor="middle" class="tk">70</text>
<line x1="675.78" y1="190.50" x2="675.78" y2="193.50" stroke="#2b2b2b" stroke-width="1"/>
<text transform="translate(675.78,201.80) scale(1.0,1.12)" text-anchor="middle" class="tk">80</text>
<text transform="translate(584.65,211.50) scale(1.0,1.06)" text-anchor="middle" class="lab">Age (yr)</text>
<text transform="translate(584.80,8.60)" text-anchor="middle" class="ttl">Females</text>
<text transform="translate(9.90,79.60) rotate(-90) scale(1.06,1.0)" text-anchor="middle" class="lab">BMI (Kg/m<tspan font-size="6" dy="-3">2</tspan><tspan dy="3">)</tspan></text>
<rect x="33.0" y="230.8" width="185.60" height="171.60" fill="#8eb8dc"/>
<path d="M33.00,254.79 L34.00,254.87 L35.00,254.94 L36.00,254.99 L37.00,255.02 L38.00,255.04 L39.00,255.05 L40.00,255.05 L41.00,255.03 L42.00,255.00 L43.00,254.95 L44.00,254.90 L45.00,254.83 L46.00,254.75 L47.00,254.67 L48.00,254.56 L49.00,254.45 L50.00,254.33 L51.00,254.20 L52.00,254.06 L53.00,253.91 L54.00,253.75 L55.00,253.58 L56.00,253.40 L57.00,253.22 L58.00,253.02 L59.00,252.82 L60.00,252.61 L61.00,252.39 L62.00,252.17 L63.00,251.94 L64.00,251.70 L65.00,251.46 L66.00,251.21 L67.00,250.96 L68.00,250.70 L69.00,250.43 L70.00,250.17 L71.00,249.89 L72.00,249.61 L73.00,249.33 L74.00,249.05 L75.00,248.76 L76.00,248.47 L77.00,248.17 L78.00,247.88 L79.00,247.58 L80.00,247.28 L81.00,246.98 L82.00,246.67 L83.00,246.37 L84.00,246.07 L85.00,245.76 L86.00,245.45 L87.00,245.15 L88.00,244.84 L89.00,244.54 L90.00,244.24 L91.00,243.93 L92.00,243.63 L93.00,243.34 L94.00,243.04 L95.00,242.74 L96.00,242.45 L97.00,242.16 L98.00,241.88 L99.00,241.60 L100.00,241.32 L101.00,241.05 L102.00,240.78 L103.00,240.51 L104.00,240.25 L105.00,240.00 L106.00,239.75 L107.00,239.50 L108.00,239.27 L109.00,239.04 L110.00,238.81 L111.00,238.59 L112.00,238.38 L113.00,238.18 L114.00,237.99 L115.00,237.80 L116.00,237.62 L117.00,237.45 L118.00,237.29 L119.00,237.14 L120.00,237.00 L121.00,236.87 L122.00,236.74 L123.00,236.63 L124.00,236.53 L125.00,236.44 L126.00,236.36 L127.00,236.29 L128.00,236.24 L129.00,236.19 L130.00,236.16 L131.00,236.14 L132.00,236.12 L133.00,236.12 L134.00,236.13 L135.00,236.16 L136.00,236.19 L137.00,236.23 L138.00,236.28 L139.00,236.34 L140.00,236.41 L141.00,236.49 L142.00,236.58 L143.00,236.68 L144.00,236.78 L145.00,236.90 L146.00,237.02 L147.00,237.15 L148.00,237.30 L149.00,237.44 L150.00,237.60 L151.00,237.76 L152.00,237.93 L153.00,238.11 L154.00,238.29 L155.00,238.49 L156.00,238.68 L157.00,238.89 L158.00,239.10 L159.00,239.32 L160.00,239.54 L161.00,239.77 L162.00,240.00 L163.00,240.24 L164.00,240.48 L165.00,240.73 L166.00,240.99 L167.00,241.25 L168.00,241.51 L169.00,241.78 L170.00,242.05 L171.00,242.32 L172.00,242.60 L173.00,242.88 L174.00,243.17 L175.00,243.46 L176.00,243.75 L177.00,244.04 L178.00,244.34 L179.00,244.64 L180.00,244.94 L181.00,245.24 L182.00,245.55 L183.00,245.85 L184.00,246.16 L185.00,246.47 L186.00,246.78 L187.00,247.09 L188.00,247.41 L189.00,247.72 L190.00,248.03 L191.00,248.34 L192.00,248.66 L193.00,248.97 L194.00,249.28 L195.00,249.60 L196.00,249.91 L197.00,250.22 L198.00,250.53 L199.00,250.83 L200.00,251.14 L201.00,251.44 L202.00,251.75 L203.00,252.05 L204.00,252.35 L205.00,252.64 L206.00,252.94 L207.00,253.23 L208.00,253.51 L209.00,253.80 L210.00,254.08 L211.00,254.36 L212.00,254.63 L213.00,254.90 L214.00,255.17 L215.00,255.43 L216.00,255.69 L217.00,255.94 L218.00,256.19 L218.60,256.33 L218.60,402.4 L33.00,402.4 Z" fill="#d7e4f4"/>
<path d="M33.00,375.17 L34.00,376.24 L35.00,377.26 L36.00,378.24 L37.00,379.16 L38.00,380.04 L39.00,380.86 L40.00,381.64 L41.00,382.36 L42.00,383.04 L43.00,383.67 L44.00,384.25 L45.00,384.78 L46.00,385.26 L47.00,385.70 L48.00,386.08 L49.00,386.42 L50.00,386.72 L51.00,386.96 L52.00,387.16 L53.00,387.31 L54.00,387.41 L55.00,387.47 L56.00,387.48 L57.00,387.44 L58.00,387.36 L59.00,387.23 L60.00,387.06 L61.00,386.84 L62.00,386.57 L63.00,386.26 L64.00,385.91 L65.00,385.51 L66.00,385.07 L67.00,384.59 L68.00,384.08 L69.00,383.53 L70.00,382.94 L71.00,382.33 L72.00,381.68 L73.00,381.01 L74.00,380.31 L75.00,379.59 L76.00,378.84 L77.00,378.08 L78.00,377.29 L79.00,376.49 L80.00,375.68 L81.00,374.85 L82.00,374.02 L83.00,373.17 L84.00,372.32 L85.00,371.46 L86.00,370.59 L87.00,369.72 L88.00,368.85 L89.00,367.97 L90.00,367.08 L91.00,366.20 L92.00,365.31 L93.00,364.42 L94.00,363.52 L95.00,362.63 L96.00,361.74 L97.00,360.85 L98.00,359.96 L99.00,359.07 L100.00,358.19 L101.00,357.30 L102.00,356.43 L103.00,355.56 L104.00,354.69 L105.00,353.83 L106.00,352.97 L107.00,352.13 L108.00,351.29 L109.00,350.46 L110.00,349.64 L111.00,348.83 L112.00,348.03 L113.00,347.24 L114.00,346.46 L115.00,345.70 L116.00,344.95 L117.00,344.21 L118.00,343.49 L119.00,342.78 L120.00,342.09 L121.00,341.41 L122.00,340.75 L123.00,340.11 L124.00,339.49 L125.00,338.88 L126.00,338.30 L127.00,337.73 L128.00,337.18 L129.00,336.64 L130.00,336.13 L131.00,335.63 L132.00,335.16 L133.00,334.70 L134.00,334.26 L135.00,333.84 L136.00,333.44 L137.00,333.06 L138.00,332.69 L139.00,332.35 L140.00,332.03 L141.00,331.72 L142.00,331.44 L143.00,331.17 L144.00,330.93 L145.00,330.71 L146.00,330.50 L147.00,330.32 L148.00,330.15 L149.00,330.01 L150.00,329.89 L151.00,329.79 L152.00,329.70 L153.00,329.64 L154.00,329.60 L155.00,329.59 L156.00,329.59 L157.00,329.61 L158.00,329.66 L159.00,329.73 L160.00,329.82 L161.00,329.93 L162.00,330.06 L163.00,330.21 L164.00,330.39 L165.00,330.59 L166.00,330.81 L167.00,331.05 L168.00,331.32 L169.00,331.61 L170.00,331.92 L171.00,332.25 L172.00,332.61 L173.00,332.98 L174.00,333.37 L175.00,333.78 L176.00,334.21 L177.00,334.66 L178.00,335.12 L179.00,335.59 L180.00,336.08 L181.00,336.59 L182.00,337.10 L183.00,337.62 L184.00,338.16 L185.00,338.70 L186.00,339.26 L187.00,339.82 L188.00,340.39 L189.00,340.96 L190.00,341.54 L191.00,342.12 L192.00,342.71 L193.00,343.29 L194.00,343.88 L195.00,344.47 L196.00,345.06 L197.00,345.65 L198.00,346.23 L199.00,346.82 L200.00,347.40 L201.00,347.97 L202.00,348.54 L203.00,349.10 L204.00,349.65 L205.00,350.20 L206.00,350.73 L207.00,351.26 L208.00,351.77 L209.00,352.27 L210.00,352.76 L211.00,353.24 L212.00,353.70 L213.00,354.15 L214.00,354.57 L215.00,354.99 L216.00,355.38 L217.00,355.75 L218.00,356.11 L218.60,356.31 L218.60,402.4 L33.00,402.4 Z" fill="#fedde4"/>
<path d="M33.00,390.77 L34.00,391.30 L35.00,391.81 L36.00,392.30 L37.00,392.77 L38.00,393.23 L39.00,393.66 L40.00,394.07 L41.00,394.46 L42.00,394.84 L43.00,395.20 L44.00,395.54 L45.00,395.86 L46.00,396.16 L47.00,396.45 L48.00,396.72 L49.00,396.97 L50.00,397.21 L51.00,397.43 L52.00,397.63 L53.00,397.82 L54.00,398.00 L55.00,398.16 L56.00,398.30 L57.00,398.43 L58.00,398.55 L59.00,398.65 L60.00,398.74 L61.00,398.82 L62.00,398.88 L63.00,398.94 L64.00,398.97 L65.00,399.00 L66.00,399.02 L67.00,399.02 L68.00,399.01 L69.00,398.99 L70.00,398.96 L71.00,398.92 L72.00,398.87 L73.00,398.81 L74.00,398.75 L75.00,398.67 L76.00,398.58 L77.00,398.48 L78.00,398.38 L79.00,398.27 L80.00,398.15 L81.00,398.02 L82.00,397.89 L83.00,397.74 L84.00,397.60 L85.00,397.44 L86.00,397.28 L87.00,397.11 L88.00,396.94 L89.00,396.77 L90.00,396.58 L91.00,396.40 L92.00,396.20 L93.00,396.01 L94.00,395.81 L95.00,395.61 L96.00,395.40 L97.00,395.19 L98.00,394.98 L99.00,394.77 L100.00,394.55 L101.00,394.33 L102.00,394.11 L103.00,393.89 L104.00,393.67 L105.00,393.45 L106.00,393.23 L107.00,393.00 L108.00,392.78 L109.00,392.56 L110.00,392.34 L111.00,392.12 L112.00,391.90 L113.00,391.68 L114.00,391.46 L115.00,391.25 L116.00,391.04 L117.00,390.83 L118.00,390.62 L119.00,390.42 L120.00,390.22 L121.00,390.03 L122.00,389.84 L123.00,389.65 L124.00,389.47 L125.00,389.29 L126.00,389.12 L127.00,388.95 L128.00,388.79 L129.00,388.64 L130.00,388.49 L131.00,388.35 L132.00,388.21 L133.00,388.08 L134.00,387.95 L135.00,387.83 L136.00,387.72 L137.00,387.61 L138.00,387.51 L139.00,387.41 L140.00,387.31 L141.00,387.23 L142.00,387.15 L143.00,387.07 L144.00,387.00 L145.00,386.93 L146.00,386.87 L147.00,386.82 L148.00,386.77 L149.00,386.72 L150.00,386.68 L151.00,386.65 L152.00,386.62 L153.00,386.59 L154.00,386.57 L155.00,386.56 L156.00,386.55 L157.00,386.54 L158.00,386.54 L159.00,386.55 L160.00,386.56 L161.00,386.57 L162.00,386.59 L163.00,386.62 L164.00,386.65 L165.00,386.68 L166.00,386.72 L167.00,386.76 L168.00,386.81 L169.00,386.86 L170.00,386.92 L171.00,386.98 L172.00,387.04 L173.00,387.11 L174.00,387.19 L175.00,387.27 L176.00,387.35 L177.00,387.44 L178.00,387.53 L179.00,387.62 L180.00,387.72 L181.00,387.83 L182.00,387.94 L183.00,388.05 L184.00,388.17 L185.00,388.29 L186.00,388.41 L187.00,388.54 L188.00,388.67 L189.00,388.81 L190.00,388.95 L191.00,389.09 L192.00,389.24 L193.00,389.39 L194.00,389.55 L195.00,389.71 L196.00,389.87 L197.00,390.04 L198.00,390.21 L199.00,390.39 L200.00,390.56 L201.00,390.75 L202.00,390.93 L203.00,391.12 L204.00,391.31 L205.00,391.51 L206.00,391.71 L207.00,391.91 L208.00,392.11 L209.00,392.32 L210.00,392.53 L211.00,392.75 L212.00,392.97 L213.00,393.19 L214.00,393.42 L215.00,393.64 L216.00,393.88 L217.00,394.11 L218.00,394.35 L218.60,394.49 L218.60,402.4 L33.00,402.4 Z" fill="#f0badf"/>
<path d="M33.00,254.79 L34.00,254.87 L35.00,254.94 L36.00,254.99 L37.00,255.02 L38.00,255.04 L39.00,255.05 L40.00,255.05 L41.00,255.03 L42.00,255.00 L43.00,254.95 L44.00,254.90 L45.00,254.83 L46.00,254.75 L47.00,254.67 L48.00,254.56 L49.00,254.45 L50.00,254.33 L51.00,254.20 L52.00,254.06 L53.00,253.91 L54.00,253.75 L55.00,253.58 L56.00,253.40 L57.00,253.22 L58.00,253.02 L59.00,252.82 L60.00,252.61 L61.00,252.39 L62.00,252.17 L63.00,251.94 L64.00,251.70 L65.00,251.46 L66.00,251.21 L67.00,250.96 L68.00,250.70 L69.00,250.43 L70.00,250.17 L71.00,249.89 L72.00,249.61 L73.00,249.33 L74.00,249.05 L75.00,248.76 L76.00,248.47 L77.00,248.17 L78.00,247.88 L79.00,247.58 L80.00,247.28 L81.00,246.98 L82.00,246.67 L83.00,246.37 L84.00,246.07 L85.00,245.76 L86.00,245.45 L87.00,245.15 L88.00,244.84 L89.00,244.54 L90.00,244.24 L91.00,243.93 L92.00,243.63 L93.00,243.34 L94.00,243.04 L95.00,242.74 L96.00,242.45 L97.00,242.16 L98.00,241.88 L99.00,241.60 L100.00,241.32 L101.00,241.05 L102.00,240.78 L103.00,240.51 L104.00,240.25 L105.00,240.00 L106.00,239.75 L107.00,239.50 L108.00,239.27 L109.00,239.04 L110.00,238.81 L111.00,238.59 L112.00,238.38 L113.00,238.18 L114.00,237.99 L115.00,237.80 L116.00,237.62 L117.00,237.45 L118.00,237.29 L119.00,237.14 L120.00,237.00 L121.00,236.87 L122.00,236.74 L123.00,236.63 L124.00,236.53 L125.00,236.44 L126.00,236.36 L127.00,236.29 L128.00,236.24 L129.00,236.19 L130.00,236.16 L131.00,236.14 L132.00,236.12 L133.00,236.12 L134.00,236.13 L135.00,236.16 L136.00,236.19 L137.00,236.23 L138.00,236.28 L139.00,236.34 L140.00,236.41 L141.00,236.49 L142.00,236.58 L143.00,236.68 L144.00,236.78 L145.00,236.90 L146.00,237.02 L147.00,237.15 L148.00,237.30 L149.00,237.44 L150.00,237.60 L151.00,237.76 L152.00,237.93 L153.00,238.11 L154.00,238.29 L155.00,238.49 L156.00,238.68 L157.00,238.89 L158.00,239.10 L159.00,239.32 L160.00,239.54 L161.00,239.77 L162.00,240.00 L163.00,240.24 L164.00,240.48 L165.00,240.73 L166.00,240.99 L167.00,241.25 L168.00,241.51 L169.00,241.78 L170.00,242.05 L171.00,242.32 L172.00,242.60 L173.00,242.88 L174.00,243.17 L175.00,243.46 L176.00,243.75 L177.00,244.04 L178.00,244.34 L179.00,244.64 L180.00,244.94 L181.00,245.24 L182.00,245.55 L183.00,245.85 L184.00,246.16 L185.00,246.47 L186.00,246.78 L187.00,247.09 L188.00,247.41 L189.00,247.72 L190.00,248.03 L191.00,248.34 L192.00,248.66 L193.00,248.97 L194.00,249.28 L195.00,249.60 L196.00,249.91 L197.00,250.22 L198.00,250.53 L199.00,250.83 L200.00,251.14 L201.00,251.44 L202.00,251.75 L203.00,252.05 L204.00,252.35 L205.00,252.64 L206.00,252.94 L207.00,253.23 L208.00,253.51 L209.00,253.80 L210.00,254.08 L211.00,254.36 L212.00,254.63 L213.00,254.90 L214.00,255.17 L215.00,255.43 L216.00,255.69 L217.00,255.94 L218.00,256.19 L218.60,256.33" fill="none" stroke="#1a2230" stroke-width="0.65"/>
<path d="M33.00,375.17 L34.00,376.24 L35.00,377.26 L36.00,378.24 L37.00,379.16 L38.00,380.04 L39.00,380.86 L40.00,381.64 L41.00,382.36 L42.00,383.04 L43.00,383.67 L44.00,384.25 L45.00,384.78 L46.00,385.26 L47.00,385.70 L48.00,386.08 L49.00,386.42 L50.00,386.72 L51.00,386.96 L52.00,387.16 L53.00,387.31 L54.00,387.41 L55.00,387.47 L56.00,387.48 L57.00,387.44 L58.00,387.36 L59.00,387.23 L60.00,387.06 L61.00,386.84 L62.00,386.57 L63.00,386.26 L64.00,385.91 L65.00,385.51 L66.00,385.07 L67.00,384.59 L68.00,384.08 L69.00,383.53 L70.00,382.94 L71.00,382.33 L72.00,381.68 L73.00,381.01 L74.00,380.31 L75.00,379.59 L76.00,378.84 L77.00,378.08 L78.00,377.29 L79.00,376.49 L80.00,375.68 L81.00,374.85 L82.00,374.02 L83.00,373.17 L84.00,372.32 L85.00,371.46 L86.00,370.59 L87.00,369.72 L88.00,368.85 L89.00,367.97 L90.00,367.08 L91.00,366.20 L92.00,365.31 L93.00,364.42 L94.00,363.52 L95.00,362.63 L96.00,361.74 L97.00,360.85 L98.00,359.96 L99.00,359.07 L100.00,358.19 L101.00,357.30 L102.00,356.43 L103.00,355.56 L104.00,354.69 L105.00,353.83 L106.00,352.97 L107.00,352.13 L108.00,351.29 L109.00,350.46 L110.00,349.64 L111.00,348.83 L112.00,348.03 L113.00,347.24 L114.00,346.46 L115.00,345.70 L116.00,344.95 L117.00,344.21 L118.00,343.49 L119.00,342.78 L120.00,342.09 L121.00,341.41 L122.00,340.75 L123.00,340.11 L124.00,339.49 L125.00,338.88 L126.00,338.30 L127.00,337.73 L128.00,337.18 L129.00,336.64 L130.00,336.13 L131.00,335.63 L132.00,335.16 L133.00,334.70 L134.00,334.26 L135.00,333.84 L136.00,333.44 L137.00,333.06 L138.00,332.69 L139.00,332.35 L140.00,332.03 L141.00,331.72 L142.00,331.44 L143.00,331.17 L144.00,330.93 L145.00,330.71 L146.00,330.50 L147.00,330.32 L148.00,330.15 L149.00,330.01 L150.00,329.89 L151.00,329.79 L152.00,329.70 L153.00,329.64 L154.00,329.60 L155.00,329.59 L156.00,329.59 L157.00,329.61 L158.00,329.66 L159.00,329.73 L160.00,329.82 L161.00,329.93 L162.00,330.06 L163.00,330.21 L164.00,330.39 L165.00,330.59 L166.00,330.81 L167.00,331.05 L168.00,331.32 L169.00,331.61 L170.00,331.92 L171.00,332.25 L172.00,332.61 L173.00,332.98 L174.00,333.37 L175.00,333.78 L176.00,334.21 L177.00,334.66 L178.00,335.12 L179.00,335.59 L180.00,336.08 L181.00,336.59 L182.00,337.10 L183.00,337.62 L184.00,338.16 L185.00,338.70 L186.00,339.26 L187.00,339.82 L188.00,340.39 L189.00,340.96 L190.00,341.54 L191.00,342.12 L192.00,342.71 L193.00,343.29 L194.00,343.88 L195.00,344.47 L196.00,345.06 L197.00,345.65 L198.00,346.23 L199.00,346.82 L200.00,347.40 L201.00,347.97 L202.00,348.54 L203.00,349.10 L204.00,349.65 L205.00,350.20 L206.00,350.73 L207.00,351.26 L208.00,351.77 L209.00,352.27 L210.00,352.76 L211.00,353.24 L212.00,353.70 L213.00,354.15 L214.00,354.57 L215.00,354.99 L216.00,355.38 L217.00,355.75 L218.00,356.11 L218.60,356.31" fill="none" stroke="#1a2230" stroke-width="0.65"/>
<path d="M33.00,390.77 L34.00,391.30 L35.00,391.81 L36.00,392.30 L37.00,392.77 L38.00,393.23 L39.00,393.66 L40.00,394.07 L41.00,394.46 L42.00,394.84 L43.00,395.20 L44.00,395.54 L45.00,395.86 L46.00,396.16 L47.00,396.45 L48.00,396.72 L49.00,396.97 L50.00,397.21 L51.00,397.43 L52.00,397.63 L53.00,397.82 L54.00,398.00 L55.00,398.16 L56.00,398.30 L57.00,398.43 L58.00,398.55 L59.00,398.65 L60.00,398.74 L61.00,398.82 L62.00,398.88 L63.00,398.94 L64.00,398.97 L65.00,399.00 L66.00,399.02 L67.00,399.02 L68.00,399.01 L69.00,398.99 L70.00,398.96 L71.00,398.92 L72.00,398.87 L73.00,398.81 L74.00,398.75 L75.00,398.67 L76.00,398.58 L77.00,398.48 L78.00,398.38 L79.00,398.27 L80.00,398.15 L81.00,398.02 L82.00,397.89 L83.00,397.74 L84.00,397.60 L85.00,397.44 L86.00,397.28 L87.00,397.11 L88.00,396.94 L89.00,396.77 L90.00,396.58 L91.00,396.40 L92.00,396.20 L93.00,396.01 L94.00,395.81 L95.00,395.61 L96.00,395.40 L97.00,395.19 L98.00,394.98 L99.00,394.77 L100.00,394.55 L101.00,394.33 L102.00,394.11 L103.00,393.89 L104.00,393.67 L105.00,393.45 L106.00,393.23 L107.00,393.00 L108.00,392.78 L109.00,392.56 L110.00,392.34 L111.00,392.12 L112.00,391.90 L113.00,391.68 L114.00,391.46 L115.00,391.25 L116.00,391.04 L117.00,390.83 L118.00,390.62 L119.00,390.42 L120.00,390.22 L121.00,390.03 L122.00,389.84 L123.00,389.65 L124.00,389.47 L125.00,389.29 L126.00,389.12 L127.00,388.95 L128.00,388.79 L129.00,388.64 L130.00,388.49 L131.00,388.35 L132.00,388.21 L133.00,388.08 L134.00,387.95 L135.00,387.83 L136.00,387.72 L137.00,387.61 L138.00,387.51 L139.00,387.41 L140.00,387.31 L141.00,387.23 L142.00,387.15 L143.00,387.07 L144.00,387.00 L145.00,386.93 L146.00,386.87 L147.00,386.82 L148.00,386.77 L149.00,386.72 L150.00,386.68 L151.00,386.65 L152.00,386.62 L153.00,386.59 L154.00,386.57 L155.00,386.56 L156.00,386.55 L157.00,386.54 L158.00,386.54 L159.00,386.55 L160.00,386.56 L161.00,386.57 L162.00,386.59 L163.00,386.62 L164.00,386.65 L165.00,386.68 L166.00,386.72 L167.00,386.76 L168.00,386.81 L169.00,386.86 L170.00,386.92 L171.00,386.98 L172.00,387.04 L173.00,387.11 L174.00,387.19 L175.00,387.27 L176.00,387.35 L177.00,387.44 L178.00,387.53 L179.00,387.62 L180.00,387.72 L181.00,387.83 L182.00,387.94 L183.00,388.05 L184.00,388.17 L185.00,388.29 L186.00,388.41 L187.00,388.54 L188.00,388.67 L189.00,388.81 L190.00,388.95 L191.00,389.09 L192.00,389.24 L193.00,389.39 L194.00,389.55 L195.00,389.71 L196.00,389.87 L197.00,390.04 L198.00,390.21 L199.00,390.39 L200.00,390.56 L201.00,390.75 L202.00,390.93 L203.00,391.12 L204.00,391.31 L205.00,391.51 L206.00,391.71 L207.00,391.91 L208.00,392.11 L209.00,392.32 L210.00,392.53 L211.00,392.75 L212.00,392.97 L213.00,393.19 L214.00,393.42 L215.00,393.64 L216.00,393.88 L217.00,394.11 L218.00,394.35 L218.60,394.49" fill="none" stroke="#1a2230" stroke-width="0.65"/>
<rect x="33.00" y="230.80" width="185.60" height="171.60" fill="none" stroke="#b0b0b0" stroke-width="0.6"/>
<line x1="29.70" y1="402.40" x2="33.00" y2="402.40" stroke="#888" stroke-width="1"/>
<text transform="translate(28.80,405.80) scale(1.0,1.12)" text-anchor="end" class="tk">0</text>
<line x1="29.70" y1="368.08" x2="33.00" y2="368.08" stroke="#888" stroke-width="1"/>
<text transform="translate(28.80,371.48) scale(1.0,1.12)" text-anchor="end" class="tk">20</text>
<line x1="29.70" y1="333.76" x2="33.00" y2="333.76" stroke="#888" stroke-width="1"/>
<text transform="translate(28.80,337.16) scale(1.0,1.12)" text-anchor="end" class="tk">40</text>
<line x1="29.70" y1="299.44" x2="33.00" y2="299.44" stroke="#888" stroke-width="1"/>
<text transform="translate(28.80,302.84) scale(1.0,1.12)" text-anchor="end" class="tk">60</text>
<line x1="29.70" y1="265.12" x2="33.00" y2="265.12" stroke="#888" stroke-width="1"/>
<text transform="translate(28.80,268.52) scale(1.0,1.12)" text-anchor="end" class="tk">80</text>
<line x1="29.70" y1="230.80" x2="33.00" y2="230.80" stroke="#888" stroke-width="1"/>
<text transform="translate(28.80,234.20) scale(1.0,1.12)" text-anchor="end" class="tk">100</text>
<line x1="33.00" y1="402.40" x2="33.00" y2="405.60" stroke="#aaa" stroke-width="1"/>
<text transform="translate(33.00,413.90) scale(1.0,1.12)" text-anchor="middle" class="tk">6</text>
<line x1="43.03" y1="402.40" x2="43.03" y2="405.60" stroke="#aaa" stroke-width="1"/>
<text transform="translate(43.03,413.90) scale(1.0,1.12)" text-anchor="middle" class="tk">10</text>
<line x1="68.11" y1="402.40" x2="68.11" y2="405.60" stroke="#aaa" stroke-width="1"/>
<text transform="translate(68.11,413.90) scale(1.0,1.12)" text-anchor="middle" class="tk">20</text>
<line x1="93.19" y1="402.40" x2="93.19" y2="405.60" stroke="#aaa" stroke-width="1"/>
<text transform="translate(93.19,413.90) scale(1.0,1.12)" text-anchor="middle" class="tk">30</text>
<line x1="118.28" y1="402.40" x2="118.28" y2="405.60" stroke="#aaa" stroke-width="1"/>
<text transform="translate(118.28,413.90) scale(1.0,1.12)" text-anchor="middle" class="tk">40</text>
<line x1="143.36" y1="402.40" x2="143.36" y2="405.60" stroke="#aaa" stroke-width="1"/>
<text transform="translate(143.36,413.90) scale(1.0,1.12)" text-anchor="middle" class="tk">50</text>
<line x1="168.44" y1="402.40" x2="168.44" y2="405.60" stroke="#aaa" stroke-width="1"/>
<text transform="translate(168.44,413.90) scale(1.0,1.12)" text-anchor="middle" class="tk">60</text>
<line x1="193.52" y1="402.40" x2="193.52" y2="405.60" stroke="#aaa" stroke-width="1"/>
<text transform="translate(193.52,413.90) scale(1.0,1.12)" text-anchor="middle" class="tk">70</text>
<line x1="218.60" y1="402.40" x2="218.60" y2="405.60" stroke="#aaa" stroke-width="1"/>
<text transform="translate(218.60,413.90) scale(1.0,1.12)" text-anchor="middle" class="tk">80</text>
<text transform="translate(125.80,423.80) scale(1.0,1.06)" text-anchor="middle" class="lab">Age (yr)</text>
<rect x="263.3" y="230.8" width="185.70" height="171.60" fill="#8eb8dc"/>
<path d="M263.30,259.13 L264.30,259.00 L265.30,258.86 L266.30,258.71 L267.30,258.55 L268.30,258.38 L269.30,258.20 L270.30,258.01 L271.30,257.82 L272.30,257.62 L273.30,257.41 L274.30,257.20 L275.30,256.97 L276.30,256.74 L277.30,256.51 L278.30,256.27 L279.30,256.02 L280.30,255.76 L281.30,255.50 L282.30,255.24 L283.30,254.97 L284.30,254.69 L285.30,254.41 L286.30,254.12 L287.30,253.83 L288.30,253.54 L289.30,253.24 L290.30,252.94 L291.30,252.63 L292.30,252.32 L293.30,252.01 L294.30,251.70 L295.30,251.38 L296.30,251.06 L297.30,250.74 L298.30,250.41 L299.30,250.09 L300.30,249.76 L301.30,249.43 L302.30,249.10 L303.30,248.77 L304.30,248.44 L305.30,248.10 L306.30,247.77 L307.30,247.44 L308.30,247.11 L309.30,246.78 L310.30,246.44 L311.30,246.11 L312.30,245.78 L313.30,245.46 L314.30,245.13 L315.30,244.80 L316.30,244.48 L317.30,244.16 L318.30,243.84 L319.30,243.53 L320.30,243.21 L321.30,242.90 L322.30,242.60 L323.30,242.29 L324.30,241.99 L325.30,241.70 L326.30,241.41 L327.30,241.12 L328.30,240.84 L329.30,240.56 L330.30,240.28 L331.30,240.02 L332.30,239.75 L333.30,239.50 L334.30,239.25 L335.30,239.00 L336.30,238.76 L337.30,238.53 L338.30,238.30 L339.30,238.09 L340.30,237.87 L341.30,237.67 L342.30,237.47 L343.30,237.29 L344.30,237.11 L345.30,236.93 L346.30,236.77 L347.30,236.61 L348.30,236.47 L349.30,236.33 L350.30,236.20 L351.30,236.09 L352.30,235.98 L353.30,235.88 L354.30,235.79 L355.30,235.71 L356.30,235.65 L357.30,235.59 L358.30,235.55 L359.30,235.51 L360.30,235.49 L361.30,235.47 L362.30,235.47 L363.30,235.48 L364.30,235.50 L365.30,235.52 L366.30,235.56 L367.30,235.61 L368.30,235.66 L369.30,235.72 L370.30,235.80 L371.30,235.88 L372.30,235.97 L373.30,236.07 L374.30,236.17 L375.30,236.29 L376.30,236.41 L377.30,236.54 L378.30,236.68 L379.30,236.83 L380.30,236.98 L381.30,237.14 L382.30,237.30 L383.30,237.47 L384.30,237.65 L385.30,237.84 L386.30,238.03 L387.30,238.23 L388.30,238.43 L389.30,238.64 L390.30,238.85 L391.30,239.07 L392.30,239.29 L393.30,239.52 L394.30,239.76 L395.30,239.99 L396.30,240.24 L397.30,240.48 L398.30,240.73 L399.30,240.99 L400.30,241.24 L401.30,241.51 L402.30,241.77 L403.30,242.04 L404.30,242.31 L405.30,242.58 L406.30,242.86 L407.30,243.14 L408.30,243.42 L409.30,243.70 L410.30,243.98 L411.30,244.27 L412.30,244.55 L413.30,244.84 L414.30,245.13 L415.30,245.42 L416.30,245.72 L417.30,246.01 L418.30,246.30 L419.30,246.59 L420.30,246.89 L421.30,247.18 L422.30,247.47 L423.30,247.76 L424.30,248.06 L425.30,248.35 L426.30,248.64 L427.30,248.93 L428.30,249.21 L429.30,249.50 L430.30,249.78 L431.30,250.07 L432.30,250.35 L433.30,250.62 L434.30,250.90 L435.30,251.17 L436.30,251.44 L437.30,251.71 L438.30,251.98 L439.30,252.24 L440.30,252.50 L441.30,252.75 L442.30,253.00 L443.30,253.25 L444.30,253.49 L445.30,253.73 L446.30,253.96 L447.30,254.19 L448.30,254.42 L449.00,254.57 L449.00,402.4 L263.30,402.4 Z" fill="#d7e4f4"/>
<path d="M263.30,375.97 L264.30,376.93 L265.30,377.84 L266.30,378.69 L267.30,379.48 L268.30,380.22 L269.30,380.90 L270.30,381.53 L271.30,382.10 L272.30,382.63 L273.30,383.10 L274.30,383.52 L275.30,383.89 L276.30,384.21 L277.30,384.49 L278.30,384.72 L279.30,384.90 L280.30,385.04 L281.30,385.13 L282.30,385.18 L283.30,385.19 L284.30,385.16 L285.30,385.08 L286.30,384.97 L287.30,384.82 L288.30,384.63 L289.30,384.40 L290.30,384.13 L291.30,383.84 L292.30,383.50 L293.30,383.14 L294.30,382.74 L295.30,382.31 L296.30,381.85 L297.30,381.36 L298.30,380.84 L299.30,380.30 L300.30,379.73 L301.30,379.14 L302.30,378.53 L303.30,377.90 L304.30,377.25 L305.30,376.58 L306.30,375.90 L307.30,375.20 L308.30,374.48 L309.30,373.75 L310.30,373.01 L311.30,372.27 L312.30,371.51 L313.30,370.74 L314.30,369.97 L315.30,369.19 L316.30,368.41 L317.30,367.63 L318.30,366.84 L319.30,366.05 L320.30,365.25 L321.30,364.46 L322.30,363.66 L323.30,362.86 L324.30,362.07 L325.30,361.27 L326.30,360.47 L327.30,359.68 L328.30,358.89 L329.30,358.10 L330.30,357.32 L331.30,356.54 L332.30,355.77 L333.30,355.00 L334.30,354.24 L335.30,353.48 L336.30,352.74 L337.30,352.00 L338.30,351.27 L339.30,350.55 L340.30,349.84 L341.30,349.13 L342.30,348.45 L343.30,347.77 L344.30,347.10 L345.30,346.45 L346.30,345.81 L347.30,345.19 L348.30,344.58 L349.30,343.99 L350.30,343.41 L351.30,342.85 L352.30,342.31 L353.30,341.79 L354.30,341.28 L355.30,340.79 L356.30,340.32 L357.30,339.86 L358.30,339.43 L359.30,339.01 L360.30,338.61 L361.30,338.23 L362.30,337.86 L363.30,337.51 L364.30,337.18 L365.30,336.87 L366.30,336.57 L367.30,336.30 L368.30,336.04 L369.30,335.79 L370.30,335.57 L371.30,335.36 L372.30,335.17 L373.30,335.00 L374.30,334.84 L375.30,334.70 L376.30,334.58 L377.30,334.47 L378.30,334.39 L379.30,334.32 L380.30,334.26 L381.30,334.23 L382.30,334.21 L383.30,334.21 L384.30,334.22 L385.30,334.26 L386.30,334.31 L387.30,334.37 L388.30,334.46 L389.30,334.56 L390.30,334.67 L391.30,334.81 L392.30,334.96 L393.30,335.13 L394.30,335.31 L395.30,335.51 L396.30,335.73 L397.30,335.97 L398.30,336.22 L399.30,336.49 L400.30,336.77 L401.30,337.07 L402.30,337.39 L403.30,337.72 L404.30,338.06 L405.30,338.41 L406.30,338.78 L407.30,339.16 L408.30,339.55 L409.30,339.95 L410.30,340.35 L411.30,340.77 L412.30,341.19 L413.30,341.61 L414.30,342.05 L415.30,342.48 L416.30,342.93 L417.30,343.37 L418.30,343.82 L419.30,344.27 L420.30,344.72 L421.30,345.17 L422.30,345.62 L423.30,346.06 L424.30,346.51 L425.30,346.95 L426.30,347.39 L427.30,347.82 L428.30,348.25 L429.30,348.67 L430.30,349.09 L431.30,349.50 L432.30,349.90 L433.30,350.29 L434.30,350.67 L435.30,351.03 L436.30,351.39 L437.30,351.74 L438.30,352.07 L439.30,352.39 L440.30,352.69 L441.30,352.98 L442.30,353.25 L443.30,353.50 L444.30,353.74 L445.30,353.96 L446.30,354.15 L447.30,354.33 L448.30,354.49 L449.00,354.59 L449.00,402.4 L263.30,402.4 Z" fill="#fedde4"/>
<path d="M263.30,391.39 L264.30,391.84 L265.30,392.27 L266.30,392.68 L267.30,393.07 L268.30,393.45 L269.30,393.81 L270.30,394.16 L271.30,394.49 L272.30,394.80 L273.30,395.10 L274.30,395.38 L275.30,395.64 L276.30,395.89 L277.30,396.13 L278.30,396.35 L279.30,396.56 L280.30,396.75 L281.30,396.93 L282.30,397.09 L283.30,397.25 L284.30,397.39 L285.30,397.51 L286.30,397.63 L287.30,397.73 L288.30,397.82 L289.30,397.90 L290.30,397.96 L291.30,398.02 L292.30,398.06 L293.30,398.10 L294.30,398.12 L295.30,398.13 L296.30,398.14 L297.30,398.13 L298.30,398.11 L299.30,398.09 L300.30,398.06 L301.30,398.01 L302.30,397.96 L303.30,397.90 L304.30,397.84 L305.30,397.76 L306.30,397.68 L307.30,397.59 L308.30,397.49 L309.30,397.39 L310.30,397.28 L311.30,397.17 L312.30,397.05 L313.30,396.92 L314.30,396.79 L315.30,396.65 L316.30,396.51 L317.30,396.36 L318.30,396.21 L319.30,396.06 L320.30,395.90 L321.30,395.74 L322.30,395.57 L323.30,395.40 L324.30,395.23 L325.30,395.06 L326.30,394.88 L327.30,394.70 L328.30,394.53 L329.30,394.34 L330.30,394.16 L331.30,393.98 L332.30,393.79 L333.30,393.61 L334.30,393.42 L335.30,393.24 L336.30,393.05 L337.30,392.87 L338.30,392.69 L339.30,392.50 L340.30,392.32 L341.30,392.14 L342.30,391.97 L343.30,391.79 L344.30,391.62 L345.30,391.45 L346.30,391.28 L347.30,391.12 L348.30,390.95 L349.30,390.80 L350.30,390.64 L351.30,390.49 L352.30,390.35 L353.30,390.21 L354.30,390.07 L355.30,389.94 L356.30,389.82 L357.30,389.70 L358.30,389.58 L359.30,389.47 L360.30,389.37 L361.30,389.28 L362.30,389.18 L363.30,389.10 L364.30,389.02 L365.30,388.94 L366.30,388.87 L367.30,388.81 L368.30,388.75 L369.30,388.69 L370.30,388.64 L371.30,388.60 L372.30,388.56 L373.30,388.52 L374.30,388.49 L375.30,388.46 L376.30,388.44 L377.30,388.42 L378.30,388.41 L379.30,388.39 L380.30,388.39 L381.30,388.39 L382.30,388.39 L383.30,388.39 L384.30,388.40 L385.30,388.42 L386.30,388.43 L387.30,388.45 L388.30,388.48 L389.30,388.51 L390.30,388.54 L391.30,388.57 L392.30,388.61 L393.30,388.65 L394.30,388.69 L395.30,388.73 L396.30,388.78 L397.30,388.83 L398.30,388.89 L399.30,388.94 L400.30,389.00 L401.30,389.07 L402.30,389.13 L403.30,389.19 L404.30,389.26 L405.30,389.33 L406.30,389.41 L407.30,389.48 L408.30,389.56 L409.30,389.63 L410.30,389.71 L411.30,389.79 L412.30,389.88 L413.30,389.96 L414.30,390.05 L415.30,390.13 L416.30,390.22 L417.30,390.31 L418.30,390.40 L419.30,390.49 L420.30,390.59 L421.30,390.68 L422.30,390.77 L423.30,390.87 L424.30,390.96 L425.30,391.06 L426.30,391.15 L427.30,391.25 L428.30,391.35 L429.30,391.44 L430.30,391.54 L431.30,391.64 L432.30,391.74 L433.30,391.83 L434.30,391.93 L435.30,392.03 L436.30,392.12 L437.30,392.22 L438.30,392.31 L439.30,392.41 L440.30,392.50 L441.30,392.60 L442.30,392.69 L443.30,392.78 L444.30,392.87 L445.30,392.96 L446.30,393.05 L447.30,393.14 L448.30,393.22 L449.00,393.28 L449.00,402.4 L263.30,402.4 Z" fill="#f0badf"/>
<path d="M263.30,259.13 L264.30,259.00 L265.30,258.86 L266.30,258.71 L267.30,258.55 L268.30,258.38 L269.30,258.20 L270.30,258.01 L271.30,257.82 L272.30,257.62 L273.30,257.41 L274.30,257.20 L275.30,256.97 L276.30,256.74 L277.30,256.51 L278.30,256.27 L279.30,256.02 L280.30,255.76 L281.30,255.50 L282.30,255.24 L283.30,254.97 L284.30,254.69 L285.30,254.41 L286.30,254.12 L287.30,253.83 L288.30,253.54 L289.30,253.24 L290.30,252.94 L291.30,252.63 L292.30,252.32 L293.30,252.01 L294.30,251.70 L295.30,251.38 L296.30,251.06 L297.30,250.74 L298.30,250.41 L299.30,250.09 L300.30,249.76 L301.30,249.43 L302.30,249.10 L303.30,248.77 L304.30,248.44 L305.30,248.10 L306.30,247.77 L307.30,247.44 L308.30,247.11 L309.30,246.78 L310.30,246.44 L311.30,246.11 L312.30,245.78 L313.30,245.46 L314.30,245.13 L315.30,244.80 L316.30,244.48 L317.30,244.16 L318.30,243.84 L319.30,243.53 L320.30,243.21 L321.30,242.90 L322.30,242.60 L323.30,242.29 L324.30,241.99 L325.30,241.70 L326.30,241.41 L327.30,241.12 L328.30,240.84 L329.30,240.56 L330.30,240.28 L331.30,240.02 L332.30,239.75 L333.30,239.50 L334.30,239.25 L335.30,239.00 L336.30,238.76 L337.30,238.53 L338.30,238.30 L339.30,238.09 L340.30,237.87 L341.30,237.67 L342.30,237.47 L343.30,237.29 L344.30,237.11 L345.30,236.93 L346.30,236.77 L347.30,236.61 L348.30,236.47 L349.30,236.33 L350.30,236.20 L351.30,236.09 L352.30,235.98 L353.30,235.88 L354.30,235.79 L355.30,235.71 L356.30,235.65 L357.30,235.59 L358.30,235.55 L359.30,235.51 L360.30,235.49 L361.30,235.47 L362.30,235.47 L363.30,235.48 L364.30,235.50 L365.30,235.52 L366.30,235.56 L367.30,235.61 L368.30,235.66 L369.30,235.72 L370.30,235.80 L371.30,235.88 L372.30,235.97 L373.30,236.07 L374.30,236.17 L375.30,236.29 L376.30,236.41 L377.30,236.54 L378.30,236.68 L379.30,236.83 L380.30,236.98 L381.30,237.14 L382.30,237.30 L383.30,237.47 L384.30,237.65 L385.30,237.84 L386.30,238.03 L387.30,238.23 L388.30,238.43 L389.30,238.64 L390.30,238.85 L391.30,239.07 L392.30,239.29 L393.30,239.52 L394.30,239.76 L395.30,239.99 L396.30,240.24 L397.30,240.48 L398.30,240.73 L399.30,240.99 L400.30,241.24 L401.30,241.51 L402.30,241.77 L403.30,242.04 L404.30,242.31 L405.30,242.58 L406.30,242.86 L407.30,243.14 L408.30,243.42 L409.30,243.70 L410.30,243.98 L411.30,244.27 L412.30,244.55 L413.30,244.84 L414.30,245.13 L415.30,245.42 L416.30,245.72 L417.30,246.01 L418.30,246.30 L419.30,246.59 L420.30,246.89 L421.30,247.18 L422.30,247.47 L423.30,247.76 L424.30,248.06 L425.30,248.35 L426.30,248.64 L427.30,248.93 L428.30,249.21 L429.30,249.50 L430.30,249.78 L431.30,250.07 L432.30,250.35 L433.30,250.62 L434.30,250.90 L435.30,251.17 L436.30,251.44 L437.30,251.71 L438.30,251.98 L439.30,252.24 L440.30,252.50 L441.30,252.75 L442.30,253.00 L443.30,253.25 L444.30,253.49 L445.30,253.73 L446.30,253.96 L447.30,254.19 L448.30,254.42 L449.00,254.57" fill="none" stroke="#1a2230" stroke-width="0.65"/>
<path d="M263.30,375.97 L264.30,376.93 L265.30,377.84 L266.30,378.69 L267.30,379.48 L268.30,380.22 L269.30,380.90 L270.30,381.53 L271.30,382.10 L272.30,382.63 L273.30,383.10 L274.30,383.52 L275.30,383.89 L276.30,384.21 L277.30,384.49 L278.30,384.72 L279.30,384.90 L280.30,385.04 L281.30,385.13 L282.30,385.18 L283.30,385.19 L284.30,385.16 L285.30,385.08 L286.30,384.97 L287.30,384.82 L288.30,384.63 L289.30,384.40 L290.30,384.13 L291.30,383.84 L292.30,383.50 L293.30,383.14 L294.30,382.74 L295.30,382.31 L296.30,381.85 L297.30,381.36 L298.30,380.84 L299.30,380.30 L300.30,379.73 L301.30,379.14 L302.30,378.53 L303.30,377.90 L304.30,377.25 L305.30,376.58 L306.30,375.90 L307.30,375.20 L308.30,374.48 L309.30,373.75 L310.30,373.01 L311.30,372.27 L312.30,371.51 L313.30,370.74 L314.30,369.97 L315.30,369.19 L316.30,368.41 L317.30,367.63 L318.30,366.84 L319.30,366.05 L320.30,365.25 L321.30,364.46 L322.30,363.66 L323.30,362.86 L324.30,362.07 L325.30,361.27 L326.30,360.47 L327.30,359.68 L328.30,358.89 L329.30,358.10 L330.30,357.32 L331.30,356.54 L332.30,355.77 L333.30,355.00 L334.30,354.24 L335.30,353.48 L336.30,352.74 L337.30,352.00 L338.30,351.27 L339.30,350.55 L340.30,349.84 L341.30,349.13 L342.30,348.45 L343.30,347.77 L344.30,347.10 L345.30,346.45 L346.30,345.81 L347.30,345.19 L348.30,344.58 L349.30,343.99 L350.30,343.41 L351.30,342.85 L352.30,342.31 L353.30,341.79 L354.30,341.28 L355.30,340.79 L356.30,340.32 L357.30,339.86 L358.30,339.43 L359.30,339.01 L360.30,338.61 L361.30,338.23 L362.30,337.86 L363.30,337.51 L364.30,337.18 L365.30,336.87 L366.30,336.57 L367.30,336.30 L368.30,336.04 L369.30,335.79 L370.30,335.57 L371.30,335.36 L372.30,335.17 L373.30,335.00 L374.30,334.84 L375.30,334.70 L376.30,334.58 L377.30,334.47 L378.30,334.39 L379.30,334.32 L380.30,334.26 L381.30,334.23 L382.30,334.21 L383.30,334.21 L384.30,334.22 L385.30,334.26 L386.30,334.31 L387.30,334.37 L388.30,334.46 L389.30,334.56 L390.30,334.67 L391.30,334.81 L392.30,334.96 L393.30,335.13 L394.30,335.31 L395.30,335.51 L396.30,335.73 L397.30,335.97 L398.30,336.22 L399.30,336.49 L400.30,336.77 L401.30,337.07 L402.30,337.39 L403.30,337.72 L404.30,338.06 L405.30,338.41 L406.30,338.78 L407.30,339.16 L408.30,339.55 L409.30,339.95 L410.30,340.35 L411.30,340.77 L412.30,341.19 L413.30,341.61 L414.30,342.05 L415.30,342.48 L416.30,342.93 L417.30,343.37 L418.30,343.82 L419.30,344.27 L420.30,344.72 L421.30,345.17 L422.30,345.62 L423.30,346.06 L424.30,346.51 L425.30,346.95 L426.30,347.39 L427.30,347.82 L428.30,348.25 L429.30,348.67 L430.30,349.09 L431.30,349.50 L432.30,349.90 L433.30,350.29 L434.30,350.67 L435.30,351.03 L436.30,351.39 L437.30,351.74 L438.30,352.07 L439.30,352.39 L440.30,352.69 L441.30,352.98 L442.30,353.25 L443.30,353.50 L444.30,353.74 L445.30,353.96 L446.30,354.15 L447.30,354.33 L448.30,354.49 L449.00,354.59" fill="none" stroke="#1a2230" stroke-width="0.65"/>
<path d="M263.30,391.39 L264.30,391.84 L265.30,392.27 L266.30,392.68 L267.30,393.07 L268.30,393.45 L269.30,393.81 L270.30,394.16 L271.30,394.49 L272.30,394.80 L273.30,395.10 L274.30,395.38 L275.30,395.64 L276.30,395.89 L277.30,396.13 L278.30,396.35 L279.30,396.56 L280.30,396.75 L281.30,396.93 L282.30,397.09 L283.30,397.25 L284.30,397.39 L285.30,397.51 L286.30,397.63 L287.30,397.73 L288.30,397.82 L289.30,397.90 L290.30,397.96 L291.30,398.02 L292.30,398.06 L293.30,398.10 L294.30,398.12 L295.30,398.13 L296.30,398.14 L297.30,398.13 L298.30,398.11 L299.30,398.09 L300.30,398.06 L301.30,398.01 L302.30,397.96 L303.30,397.90 L304.30,397.84 L305.30,397.76 L306.30,397.68 L307.30,397.59 L308.30,397.49 L309.30,397.39 L310.30,397.28 L311.30,397.17 L312.30,397.05 L313.30,396.92 L314.30,396.79 L315.30,396.65 L316.30,396.51 L317.30,396.36 L318.30,396.21 L319.30,396.06 L320.30,395.90 L321.30,395.74 L322.30,395.57 L323.30,395.40 L324.30,395.23 L325.30,395.06 L326.30,394.88 L327.30,394.70 L328.30,394.53 L329.30,394.34 L330.30,394.16 L331.30,393.98 L332.30,393.79 L333.30,393.61 L334.30,393.42 L335.30,393.24 L336.30,393.05 L337.30,392.87 L338.30,392.69 L339.30,392.50 L340.30,392.32 L341.30,392.14 L342.30,391.97 L343.30,391.79 L344.30,391.62 L345.30,391.45 L346.30,391.28 L347.30,391.12 L348.30,390.95 L349.30,390.80 L350.30,390.64 L351.30,390.49 L352.30,390.35 L353.30,390.21 L354.30,390.07 L355.30,389.94 L356.30,389.82 L357.30,389.70 L358.30,389.58 L359.30,389.47 L360.30,389.37 L361.30,389.28 L362.30,389.18 L363.30,389.10 L364.30,389.02 L365.30,388.94 L366.30,388.87 L367.30,388.81 L368.30,388.75 L369.30,388.69 L370.30,388.64 L371.30,388.60 L372.30,388.56 L373.30,388.52 L374.30,388.49 L375.30,388.46 L376.30,388.44 L377.30,388.42 L378.30,388.41 L379.30,388.39 L380.30,388.39 L381.30,388.39 L382.30,388.39 L383.30,388.39 L384.30,388.40 L385.30,388.42 L386.30,388.43 L387.30,388.45 L388.30,388.48 L389.30,388.51 L390.30,388.54 L391.30,388.57 L392.30,388.61 L393.30,388.65 L394.30,388.69 L395.30,388.73 L396.30,388.78 L397.30,388.83 L398.30,388.89 L399.30,388.94 L400.30,389.00 L401.30,389.07 L402.30,389.13 L403.30,389.19 L404.30,389.26 L405.30,389.33 L406.30,389.41 L407.30,389.48 L408.30,389.56 L409.30,389.63 L410.30,389.71 L411.30,389.79 L412.30,389.88 L413.30,389.96 L414.30,390.05 L415.30,390.13 L416.30,390.22 L417.30,390.31 L418.30,390.40 L419.30,390.49 L420.30,390.59 L421.30,390.68 L422.30,390.77 L423.30,390.87 L424.30,390.96 L425.30,391.06 L426.30,391.15 L427.30,391.25 L428.30,391.35 L429.30,391.44 L430.30,391.54 L431.30,391.64 L432.30,391.74 L433.30,391.83 L434.30,391.93 L435.30,392.03 L436.30,392.12 L437.30,392.22 L438.30,392.31 L439.30,392.41 L440.30,392.50 L441.30,392.60 L442.30,392.69 L443.30,392.78 L444.30,392.87 L445.30,392.96 L446.30,393.05 L447.30,393.14 L448.30,393.22 L449.00,393.28" fill="none" stroke="#1a2230" stroke-width="0.65"/>
<rect x="263.30" y="230.80" width="185.70" height="171.60" fill="none" stroke="#b0b0b0" stroke-width="0.6"/>
<line x1="260.00" y1="402.40" x2="263.30" y2="402.40" stroke="#888" stroke-width="1"/>
<text transform="translate(259.10,405.80) scale(1.0,1.12)" text-anchor="end" class="tk">0</text>
<line x1="260.00" y1="368.08" x2="263.30" y2="368.08" stroke="#888" stroke-width="1"/>
<text transform="translate(259.10,371.48) scale(1.0,1.12)" text-anchor="end" class="tk">20</text>
<line x1="260.00" y1="333.76" x2="263.30" y2="333.76" stroke="#888" stroke-width="1"/>
<text transform="translate(259.10,337.16) scale(1.0,1.12)" text-anchor="end" class="tk">40</text>
<line x1="260.00" y1="299.44" x2="263.30" y2="299.44" stroke="#888" stroke-width="1"/>
<text transform="translate(259.10,302.84) scale(1.0,1.12)" text-anchor="end" class="tk">60</text>
<line x1="260.00" y1="265.12" x2="263.30" y2="265.12" stroke="#888" stroke-width="1"/>
<text transform="translate(259.10,268.52) scale(1.0,1.12)" text-anchor="end" class="tk">80</text>
<line x1="260.00" y1="230.80" x2="263.30" y2="230.80" stroke="#888" stroke-width="1"/>
<text transform="translate(259.10,234.20) scale(1.0,1.12)" text-anchor="end" class="tk">100</text>
<line x1="263.30" y1="402.40" x2="263.30" y2="405.60" stroke="#aaa" stroke-width="1"/>
<text transform="translate(263.30,413.90) scale(1.0,1.12)" text-anchor="middle" class="tk">6</text>
<line x1="273.34" y1="402.40" x2="273.34" y2="405.60" stroke="#aaa" stroke-width="1"/>
<text transform="translate(273.34,413.90) scale(1.0,1.12)" text-anchor="middle" class="tk">10</text>
<line x1="298.43" y1="402.40" x2="298.43" y2="405.60" stroke="#aaa" stroke-width="1"/>
<text transform="translate(298.43,413.90) scale(1.0,1.12)" text-anchor="middle" class="tk">20</text>
<line x1="323.53" y1="402.40" x2="323.53" y2="405.60" stroke="#aaa" stroke-width="1"/>
<text transform="translate(323.53,413.90) scale(1.0,1.12)" text-anchor="middle" class="tk">30</text>
<line x1="348.62" y1="402.40" x2="348.62" y2="405.60" stroke="#aaa" stroke-width="1"/>
<text transform="translate(348.62,413.90) scale(1.0,1.12)" text-anchor="middle" class="tk">40</text>
<line x1="373.72" y1="402.40" x2="373.72" y2="405.60" stroke="#aaa" stroke-width="1"/>
<text transform="translate(373.72,413.90) scale(1.0,1.12)" text-anchor="middle" class="tk">50</text>
<line x1="398.81" y1="402.40" x2="398.81" y2="405.60" stroke="#aaa" stroke-width="1"/>
<text transform="translate(398.81,413.90) scale(1.0,1.12)" text-anchor="middle" class="tk">60</text>
<line x1="423.91" y1="402.40" x2="423.91" y2="405.60" stroke="#aaa" stroke-width="1"/>
<text transform="translate(423.91,413.90) scale(1.0,1.12)" text-anchor="middle" class="tk">70</text>
<line x1="449.00" y1="402.40" x2="449.00" y2="405.60" stroke="#aaa" stroke-width="1"/>
<text transform="translate(449.00,413.90) scale(1.0,1.12)" text-anchor="middle" class="tk">80</text>
<text transform="translate(356.15,423.80) scale(1.0,1.06)" text-anchor="middle" class="lab">Age (yr)</text>
<rect x="494.3" y="230.8" width="185.30" height="171.60" fill="#8eb8dc"/>
<path d="M494.30,251.20 L495.30,251.34 L496.30,251.47 L497.30,251.58 L498.30,251.68 L499.30,251.77 L500.30,251.85 L501.30,251.91 L502.30,251.96 L503.30,252.00 L504.30,252.02 L505.30,252.03 L506.30,252.04 L507.30,252.03 L508.30,252.01 L509.30,251.98 L510.30,251.94 L511.30,251.88 L512.30,251.82 L513.30,251.75 L514.30,251.67 L515.30,251.58 L516.30,251.48 L517.30,251.38 L518.30,251.26 L519.30,251.14 L520.30,251.00 L521.30,250.86 L522.30,250.72 L523.30,250.56 L524.30,250.40 L525.30,250.23 L526.30,250.06 L527.30,249.88 L528.30,249.69 L529.30,249.50 L530.30,249.31 L531.30,249.10 L532.30,248.90 L533.30,248.68 L534.30,248.47 L535.30,248.25 L536.30,248.02 L537.30,247.79 L538.30,247.56 L539.30,247.33 L540.30,247.09 L541.30,246.85 L542.30,246.61 L543.30,246.36 L544.30,246.12 L545.30,245.87 L546.30,245.62 L547.30,245.37 L548.30,245.12 L549.30,244.87 L550.30,244.62 L551.30,244.36 L552.30,244.11 L553.30,243.86 L554.30,243.61 L555.30,243.36 L556.30,243.11 L557.30,242.86 L558.30,242.62 L559.30,242.37 L560.30,242.13 L561.30,241.89 L562.30,241.65 L563.30,241.42 L564.30,241.19 L565.30,240.96 L566.30,240.74 L567.30,240.52 L568.30,240.31 L569.30,240.09 L570.30,239.89 L571.30,239.69 L572.30,239.49 L573.30,239.30 L574.30,239.12 L575.30,238.94 L576.30,238.77 L577.30,238.60 L578.30,238.44 L579.30,238.29 L580.30,238.14 L581.30,238.01 L582.30,237.88 L583.30,237.75 L584.30,237.64 L585.30,237.54 L586.30,237.44 L587.30,237.35 L588.30,237.27 L589.30,237.21 L590.30,237.15 L591.30,237.10 L592.30,237.06 L593.30,237.02 L594.30,237.00 L595.30,236.99 L596.30,236.98 L597.30,236.98 L598.30,236.99 L599.30,237.01 L600.30,237.04 L601.30,237.08 L602.30,237.12 L603.30,237.17 L604.30,237.23 L605.30,237.29 L606.30,237.37 L607.30,237.45 L608.30,237.54 L609.30,237.63 L610.30,237.74 L611.30,237.85 L612.30,237.96 L613.30,238.09 L614.30,238.22 L615.30,238.35 L616.30,238.49 L617.30,238.64 L618.30,238.80 L619.30,238.96 L620.30,239.12 L621.30,239.30 L622.30,239.47 L623.30,239.66 L624.30,239.85 L625.30,240.04 L626.30,240.24 L627.30,240.45 L628.30,240.66 L629.30,240.87 L630.30,241.09 L631.30,241.31 L632.30,241.54 L633.30,241.77 L634.30,242.01 L635.30,242.25 L636.30,242.50 L637.30,242.75 L638.30,243.00 L639.30,243.26 L640.30,243.52 L641.30,243.78 L642.30,244.05 L643.30,244.32 L644.30,244.59 L645.30,244.87 L646.30,245.15 L647.30,245.43 L648.30,245.72 L649.30,246.00 L650.30,246.29 L651.30,246.59 L652.30,246.88 L653.30,247.18 L654.30,247.48 L655.30,247.78 L656.30,248.08 L657.30,248.39 L658.30,248.69 L659.30,249.00 L660.30,249.31 L661.30,249.62 L662.30,249.93 L663.30,250.24 L664.30,250.55 L665.30,250.87 L666.30,251.18 L667.30,251.50 L668.30,251.81 L669.30,252.13 L670.30,252.44 L671.30,252.76 L672.30,253.07 L673.30,253.39 L674.30,253.71 L675.30,254.02 L676.30,254.34 L677.30,254.65 L678.30,254.96 L679.30,255.28 L679.60,255.37 L679.60,402.4 L494.30,402.4 Z" fill="#d7e4f4"/>
<path d="M494.30,377.18 L495.30,378.27 L496.30,379.30 L497.30,380.28 L498.30,381.21 L499.30,382.08 L500.30,382.91 L501.30,383.68 L502.30,384.40 L503.30,385.07 L504.30,385.68 L505.30,386.25 L506.30,386.77 L507.30,387.23 L508.30,387.65 L509.30,388.02 L510.30,388.34 L511.30,388.61 L512.30,388.83 L513.30,389.00 L514.30,389.13 L515.30,389.21 L516.30,389.24 L517.30,389.22 L518.30,389.16 L519.30,389.06 L520.30,388.90 L521.30,388.71 L522.30,388.46 L523.30,388.17 L524.30,387.84 L525.30,387.47 L526.30,387.05 L527.30,386.59 L528.30,386.10 L529.30,385.57 L530.30,385.00 L531.30,384.41 L532.30,383.79 L533.30,383.14 L534.30,382.47 L535.30,381.77 L536.30,381.05 L537.30,380.32 L538.30,379.56 L539.30,378.79 L540.30,378.01 L541.30,377.21 L542.30,376.39 L543.30,375.56 L544.30,374.72 L545.30,373.87 L546.30,373.00 L547.30,372.13 L548.30,371.25 L549.30,370.35 L550.30,369.45 L551.30,368.55 L552.30,367.64 L553.30,366.72 L554.30,365.79 L555.30,364.86 L556.30,363.93 L557.30,363.00 L558.30,362.06 L559.30,361.12 L560.30,360.18 L561.30,359.24 L562.30,358.30 L563.30,357.35 L564.30,356.42 L565.30,355.48 L566.30,354.55 L567.30,353.62 L568.30,352.69 L569.30,351.77 L570.30,350.85 L571.30,349.94 L572.30,349.04 L573.30,348.15 L574.30,347.26 L575.30,346.38 L576.30,345.51 L577.30,344.65 L578.30,343.81 L579.30,342.97 L580.30,342.15 L581.30,341.34 L582.30,340.54 L583.30,339.76 L584.30,338.99 L585.30,338.23 L586.30,337.49 L587.30,336.77 L588.30,336.06 L589.30,335.37 L590.30,334.70 L591.30,334.05 L592.30,333.41 L593.30,332.79 L594.30,332.19 L595.30,331.61 L596.30,331.05 L597.30,330.51 L598.30,329.99 L599.30,329.50 L600.30,329.02 L601.30,328.57 L602.30,328.14 L603.30,327.73 L604.30,327.35 L605.30,326.99 L606.30,326.66 L607.30,326.35 L608.30,326.06 L609.30,325.80 L610.30,325.57 L611.30,325.37 L612.30,325.18 L613.30,325.03 L614.30,324.90 L615.30,324.79 L616.30,324.71 L617.30,324.65 L618.30,324.62 L619.30,324.61 L620.30,324.62 L621.30,324.66 L622.30,324.73 L623.30,324.81 L624.30,324.92 L625.30,325.05 L626.30,325.21 L627.30,325.39 L628.30,325.59 L629.30,325.81 L630.30,326.06 L631.30,326.33 L632.30,326.62 L633.30,326.93 L634.30,327.26 L635.30,327.62 L636.30,328.00 L637.30,328.39 L638.30,328.81 L639.30,329.24 L640.30,329.69 L641.30,330.16 L642.30,330.65 L643.30,331.15 L644.30,331.66 L645.30,332.18 L646.30,332.72 L647.30,333.27 L648.30,333.83 L649.30,334.41 L650.30,335.00 L651.30,335.60 L652.30,336.21 L653.30,336.84 L654.30,337.49 L655.30,338.14 L656.30,338.82 L657.30,339.50 L658.30,340.21 L659.30,340.93 L660.30,341.66 L661.30,342.42 L662.30,343.19 L663.30,343.98 L664.30,344.79 L665.30,345.61 L666.30,346.45 L667.30,347.30 L668.30,348.16 L669.30,349.04 L670.30,349.93 L671.30,350.83 L672.30,351.74 L673.30,352.66 L674.30,353.59 L675.30,354.52 L676.30,355.47 L677.30,356.42 L678.30,357.37 L679.30,358.33 L679.60,358.61 L679.60,402.4 L494.30,402.4 Z" fill="#fedde4"/>
<path d="M494.30,392.49 L495.30,392.97 L496.30,393.44 L497.30,393.89 L498.30,394.32 L499.30,394.74 L500.30,395.14 L501.30,395.52 L502.30,395.88 L503.30,396.23 L504.30,396.55 L505.30,396.87 L506.30,397.17 L507.30,397.45 L508.30,397.71 L509.30,397.96 L510.30,398.20 L511.30,398.42 L512.30,398.63 L513.30,398.82 L514.30,398.99 L515.30,399.16 L516.30,399.31 L517.30,399.44 L518.30,399.57 L519.30,399.67 L520.30,399.77 L521.30,399.86 L522.30,399.93 L523.30,399.99 L524.30,400.03 L525.30,400.07 L526.30,400.10 L527.30,400.11 L528.30,400.11 L529.30,400.10 L530.30,400.08 L531.30,400.05 L532.30,400.01 L533.30,399.97 L534.30,399.91 L535.30,399.84 L536.30,399.76 L537.30,399.67 L538.30,399.58 L539.30,399.48 L540.30,399.36 L541.30,399.24 L542.30,399.12 L543.30,398.98 L544.30,398.84 L545.30,398.69 L546.30,398.53 L547.30,398.37 L548.30,398.20 L549.30,398.02 L550.30,397.84 L551.30,397.66 L552.30,397.46 L553.30,397.27 L554.30,397.06 L555.30,396.85 L556.30,396.64 L557.30,396.42 L558.30,396.20 L559.30,395.98 L560.30,395.75 L561.30,395.52 L562.30,395.28 L563.30,395.05 L564.30,394.81 L565.30,394.56 L566.30,394.32 L567.30,394.07 L568.30,393.82 L569.30,393.57 L570.30,393.32 L571.30,393.06 L572.30,392.81 L573.30,392.55 L574.30,392.30 L575.30,392.04 L576.30,391.79 L577.30,391.53 L578.30,391.28 L579.30,391.02 L580.30,390.77 L581.30,390.52 L582.30,390.27 L583.30,390.02 L584.30,389.77 L585.30,389.52 L586.30,389.28 L587.30,389.04 L588.30,388.80 L589.30,388.57 L590.30,388.34 L591.30,388.11 L592.30,387.89 L593.30,387.66 L594.30,387.45 L595.30,387.23 L596.30,387.02 L597.30,386.82 L598.30,386.62 L599.30,386.42 L600.30,386.23 L601.30,386.04 L602.30,385.86 L603.30,385.68 L604.30,385.51 L605.30,385.34 L606.30,385.18 L607.30,385.03 L608.30,384.88 L609.30,384.73 L610.30,384.59 L611.30,384.46 L612.30,384.34 L613.30,384.22 L614.30,384.11 L615.30,384.00 L616.30,383.90 L617.30,383.81 L618.30,383.73 L619.30,383.65 L620.30,383.58 L621.30,383.52 L622.30,383.46 L623.30,383.42 L624.30,383.38 L625.30,383.35 L626.30,383.33 L627.30,383.32 L628.30,383.31 L629.30,383.32 L630.30,383.33 L631.30,383.35 L632.30,383.39 L633.30,383.43 L634.30,383.48 L635.30,383.54 L636.30,383.61 L637.30,383.69 L638.30,383.78 L639.30,383.88 L640.30,383.99 L641.30,384.11 L642.30,384.24 L643.30,384.37 L644.30,384.52 L645.30,384.68 L646.30,384.84 L647.30,385.01 L648.30,385.20 L649.30,385.39 L650.30,385.59 L651.30,385.80 L652.30,386.02 L653.30,386.24 L654.30,386.48 L655.30,386.72 L656.30,386.97 L657.30,387.23 L658.30,387.50 L659.30,387.78 L660.30,388.06 L661.30,388.35 L662.30,388.65 L663.30,388.96 L664.30,389.28 L665.30,389.60 L666.30,389.93 L667.30,390.27 L668.30,390.62 L669.30,390.97 L670.30,391.33 L671.30,391.70 L672.30,392.08 L673.30,392.46 L674.30,392.85 L675.30,393.25 L676.30,393.65 L677.30,394.06 L678.30,394.48 L679.30,394.90 L679.60,395.03 L679.60,402.4 L494.30,402.4 Z" fill="#f0badf"/>
<path d="M494.30,251.20 L495.30,251.34 L496.30,251.47 L497.30,251.58 L498.30,251.68 L499.30,251.77 L500.30,251.85 L501.30,251.91 L502.30,251.96 L503.30,252.00 L504.30,252.02 L505.30,252.03 L506.30,252.04 L507.30,252.03 L508.30,252.01 L509.30,251.98 L510.30,251.94 L511.30,251.88 L512.30,251.82 L513.30,251.75 L514.30,251.67 L515.30,251.58 L516.30,251.48 L517.30,251.38 L518.30,251.26 L519.30,251.14 L520.30,251.00 L521.30,250.86 L522.30,250.72 L523.30,250.56 L524.30,250.40 L525.30,250.23 L526.30,250.06 L527.30,249.88 L528.30,249.69 L529.30,249.50 L530.30,249.31 L531.30,249.10 L532.30,248.90 L533.30,248.68 L534.30,248.47 L535.30,248.25 L536.30,248.02 L537.30,247.79 L538.30,247.56 L539.30,247.33 L540.30,247.09 L541.30,246.85 L542.30,246.61 L543.30,246.36 L544.30,246.12 L545.30,245.87 L546.30,245.62 L547.30,245.37 L548.30,245.12 L549.30,244.87 L550.30,244.62 L551.30,244.36 L552.30,244.11 L553.30,243.86 L554.30,243.61 L555.30,243.36 L556.30,243.11 L557.30,242.86 L558.30,242.62 L559.30,242.37 L560.30,242.13 L561.30,241.89 L562.30,241.65 L563.30,241.42 L564.30,241.19 L565.30,240.96 L566.30,240.74 L567.30,240.52 L568.30,240.31 L569.30,240.09 L570.30,239.89 L571.30,239.69 L572.30,239.49 L573.30,239.30 L574.30,239.12 L575.30,238.94 L576.30,238.77 L577.30,238.60 L578.30,238.44 L579.30,238.29 L580.30,238.14 L581.30,238.01 L582.30,237.88 L583.30,237.75 L584.30,237.64 L585.30,237.54 L586.30,237.44 L587.30,237.35 L588.30,237.27 L589.30,237.21 L590.30,237.15 L591.30,237.10 L592.30,237.06 L593.30,237.02 L594.30,237.00 L595.30,236.99 L596.30,236.98 L597.30,236.98 L598.30,236.99 L599.30,237.01 L600.30,237.04 L601.30,237.08 L602.30,237.12 L603.30,237.17 L604.30,237.23 L605.30,237.29 L606.30,237.37 L607.30,237.45 L608.30,237.54 L609.30,237.63 L610.30,237.74 L611.30,237.85 L612.30,237.96 L613.30,238.09 L614.30,238.22 L615.30,238.35 L616.30,238.49 L617.30,238.64 L618.30,238.80 L619.30,238.96 L620.30,239.12 L621.30,239.30 L622.30,239.47 L623.30,239.66 L624.30,239.85 L625.30,240.04 L626.30,240.24 L627.30,240.45 L628.30,240.66 L629.30,240.87 L630.30,241.09 L631.30,241.31 L632.30,241.54 L633.30,241.77 L634.30,242.01 L635.30,242.25 L636.30,242.50 L637.30,242.75 L638.30,243.00 L639.30,243.26 L640.30,243.52 L641.30,243.78 L642.30,244.05 L643.30,244.32 L644.30,244.59 L645.30,244.87 L646.30,245.15 L647.30,245.43 L648.30,245.72 L649.30,246.00 L650.30,246.29 L651.30,246.59 L652.30,246.88 L653.30,247.18 L654.30,247.48 L655.30,247.78 L656.30,248.08 L657.30,248.39 L658.30,248.69 L659.30,249.00 L660.30,249.31 L661.30,249.62 L662.30,249.93 L663.30,250.24 L664.30,250.55 L665.30,250.87 L666.30,251.18 L667.30,251.50 L668.30,251.81 L669.30,252.13 L670.30,252.44 L671.30,252.76 L672.30,253.07 L673.30,253.39 L674.30,253.71 L675.30,254.02 L676.30,254.34 L677.30,254.65 L678.30,254.96 L679.30,255.28 L679.60,255.37" fill="none" stroke="#1a2230" stroke-width="0.65"/>
<path d="M494.30,377.18 L495.30,378.27 L496.30,379.30 L497.30,380.28 L498.30,381.21 L499.30,382.08 L500.30,382.91 L501.30,383.68 L502.30,384.40 L503.30,385.07 L504.30,385.68 L505.30,386.25 L506.30,386.77 L507.30,387.23 L508.30,387.65 L509.30,388.02 L510.30,388.34 L511.30,388.61 L512.30,388.83 L513.30,389.00 L514.30,389.13 L515.30,389.21 L516.30,389.24 L517.30,389.22 L518.30,389.16 L519.30,389.06 L520.30,388.90 L521.30,388.71 L522.30,388.46 L523.30,388.17 L524.30,387.84 L525.30,387.47 L526.30,387.05 L527.30,386.59 L528.30,386.10 L529.30,385.57 L530.30,385.00 L531.30,384.41 L532.30,383.79 L533.30,383.14 L534.30,382.47 L535.30,381.77 L536.30,381.05 L537.30,380.32 L538.30,379.56 L539.30,378.79 L540.30,378.01 L541.30,377.21 L542.30,376.39 L543.30,375.56 L544.30,374.72 L545.30,373.87 L546.30,373.00 L547.30,372.13 L548.30,371.25 L549.30,370.35 L550.30,369.45 L551.30,368.55 L552.30,367.64 L553.30,366.72 L554.30,365.79 L555.30,364.86 L556.30,363.93 L557.30,363.00 L558.30,362.06 L559.30,361.12 L560.30,360.18 L561.30,359.24 L562.30,358.30 L563.30,357.35 L564.30,356.42 L565.30,355.48 L566.30,354.55 L567.30,353.62 L568.30,352.69 L569.30,351.77 L570.30,350.85 L571.30,349.94 L572.30,349.04 L573.30,348.15 L574.30,347.26 L575.30,346.38 L576.30,345.51 L577.30,344.65 L578.30,343.81 L579.30,342.97 L580.30,342.15 L581.30,341.34 L582.30,340.54 L583.30,339.76 L584.30,338.99 L585.30,338.23 L586.30,337.49 L587.30,336.77 L588.30,336.06 L589.30,335.37 L590.30,334.70 L591.30,334.05 L592.30,333.41 L593.30,332.79 L594.30,332.19 L595.30,331.61 L596.30,331.05 L597.30,330.51 L598.30,329.99 L599.30,329.50 L600.30,329.02 L601.30,328.57 L602.30,328.14 L603.30,327.73 L604.30,327.35 L605.30,326.99 L606.30,326.66 L607.30,326.35 L608.30,326.06 L609.30,325.80 L610.30,325.57 L611.30,325.37 L612.30,325.18 L613.30,325.03 L614.30,324.90 L615.30,324.79 L616.30,324.71 L617.30,324.65 L618.30,324.62 L619.30,324.61 L620.30,324.62 L621.30,324.66 L622.30,324.73 L623.30,324.81 L624.30,324.92 L625.30,325.05 L626.30,325.21 L627.30,325.39 L628.30,325.59 L629.30,325.81 L630.30,326.06 L631.30,326.33 L632.30,326.62 L633.30,326.93 L634.30,327.26 L635.30,327.62 L636.30,328.00 L637.30,328.39 L638.30,328.81 L639.30,329.24 L640.30,329.69 L641.30,330.16 L642.30,330.65 L643.30,331.15 L644.30,331.66 L645.30,332.18 L646.30,332.72 L647.30,333.27 L648.30,333.83 L649.30,334.41 L650.30,335.00 L651.30,335.60 L652.30,336.21 L653.30,336.84 L654.30,337.49 L655.30,338.14 L656.30,338.82 L657.30,339.50 L658.30,340.21 L659.30,340.93 L660.30,341.66 L661.30,342.42 L662.30,343.19 L663.30,343.98 L664.30,344.79 L665.30,345.61 L666.30,346.45 L667.30,347.30 L668.30,348.16 L669.30,349.04 L670.30,349.93 L671.30,350.83 L672.30,351.74 L673.30,352.66 L674.30,353.59 L675.30,354.52 L676.30,355.47 L677.30,356.42 L678.30,357.37 L679.30,358.33 L679.60,358.61" fill="none" stroke="#1a2230" stroke-width="0.65"/>
<path d="M494.30,392.49 L495.30,392.97 L496.30,393.44 L497.30,393.89 L498.30,394.32 L499.30,394.74 L500.30,395.14 L501.30,395.52 L502.30,395.88 L503.30,396.23 L504.30,396.55 L505.30,396.87 L506.30,397.17 L507.30,397.45 L508.30,397.71 L509.30,397.96 L510.30,398.20 L511.30,398.42 L512.30,398.63 L513.30,398.82 L514.30,398.99 L515.30,399.16 L516.30,399.31 L517.30,399.44 L518.30,399.57 L519.30,399.67 L520.30,399.77 L521.30,399.86 L522.30,399.93 L523.30,399.99 L524.30,400.03 L525.30,400.07 L526.30,400.10 L527.30,400.11 L528.30,400.11 L529.30,400.10 L530.30,400.08 L531.30,400.05 L532.30,400.01 L533.30,399.97 L534.30,399.91 L535.30,399.84 L536.30,399.76 L537.30,399.67 L538.30,399.58 L539.30,399.48 L540.30,399.36 L541.30,399.24 L542.30,399.12 L543.30,398.98 L544.30,398.84 L545.30,398.69 L546.30,398.53 L547.30,398.37 L548.30,398.20 L549.30,398.02 L550.30,397.84 L551.30,397.66 L552.30,397.46 L553.30,397.27 L554.30,397.06 L555.30,396.85 L556.30,396.64 L557.30,396.42 L558.30,396.20 L559.30,395.98 L560.30,395.75 L561.30,395.52 L562.30,395.28 L563.30,395.05 L564.30,394.81 L565.30,394.56 L566.30,394.32 L567.30,394.07 L568.30,393.82 L569.30,393.57 L570.30,393.32 L571.30,393.06 L572.30,392.81 L573.30,392.55 L574.30,392.30 L575.30,392.04 L576.30,391.79 L577.30,391.53 L578.30,391.28 L579.30,391.02 L580.30,390.77 L581.30,390.52 L582.30,390.27 L583.30,390.02 L584.30,389.77 L585.30,389.52 L586.30,389.28 L587.30,389.04 L588.30,388.80 L589.30,388.57 L590.30,388.34 L591.30,388.11 L592.30,387.89 L593.30,387.66 L594.30,387.45 L595.30,387.23 L596.30,387.02 L597.30,386.82 L598.30,386.62 L599.30,386.42 L600.30,386.23 L601.30,386.04 L602.30,385.86 L603.30,385.68 L604.30,385.51 L605.30,385.34 L606.30,385.18 L607.30,385.03 L608.30,384.88 L609.30,384.73 L610.30,384.59 L611.30,384.46 L612.30,384.34 L613.30,384.22 L614.30,384.11 L615.30,384.00 L616.30,383.90 L617.30,383.81 L618.30,383.73 L619.30,383.65 L620.30,383.58 L621.30,383.52 L622.30,383.46 L623.30,383.42 L624.30,383.38 L625.30,383.35 L626.30,383.33 L627.30,383.32 L628.30,383.31 L629.30,383.32 L630.30,383.33 L631.30,383.35 L632.30,383.39 L633.30,383.43 L634.30,383.48 L635.30,383.54 L636.30,383.61 L637.30,383.69 L638.30,383.78 L639.30,383.88 L640.30,383.99 L641.30,384.11 L642.30,384.24 L643.30,384.37 L644.30,384.52 L645.30,384.68 L646.30,384.84 L647.30,385.01 L648.30,385.20 L649.30,385.39 L650.30,385.59 L651.30,385.80 L652.30,386.02 L653.30,386.24 L654.30,386.48 L655.30,386.72 L656.30,386.97 L657.30,387.23 L658.30,387.50 L659.30,387.78 L660.30,388.06 L661.30,388.35 L662.30,388.65 L663.30,388.96 L664.30,389.28 L665.30,389.60 L666.30,389.93 L667.30,390.27 L668.30,390.62 L669.30,390.97 L670.30,391.33 L671.30,391.70 L672.30,392.08 L673.30,392.46 L674.30,392.85 L675.30,393.25 L676.30,393.65 L677.30,394.06 L678.30,394.48 L679.30,394.90 L679.60,395.03" fill="none" stroke="#1a2230" stroke-width="0.65"/>
<rect x="494.30" y="230.80" width="185.30" height="171.60" fill="none" stroke="#b0b0b0" stroke-width="0.6"/>
<line x1="491.00" y1="402.40" x2="494.30" y2="402.40" stroke="#888" stroke-width="1"/>
<text transform="translate(490.10,405.80) scale(1.0,1.12)" text-anchor="end" class="tk">0</text>
<line x1="491.00" y1="368.08" x2="494.30" y2="368.08" stroke="#888" stroke-width="1"/>
<text transform="translate(490.10,371.48) scale(1.0,1.12)" text-anchor="end" class="tk">20</text>
<line x1="491.00" y1="333.76" x2="494.30" y2="333.76" stroke="#888" stroke-width="1"/>
<text transform="translate(490.10,337.16) scale(1.0,1.12)" text-anchor="end" class="tk">40</text>
<line x1="491.00" y1="299.44" x2="494.30" y2="299.44" stroke="#888" stroke-width="1"/>
<text transform="translate(490.10,302.84) scale(1.0,1.12)" text-anchor="end" class="tk">60</text>
<line x1="491.00" y1="265.12" x2="494.30" y2="265.12" stroke="#888" stroke-width="1"/>
<text transform="translate(490.10,268.52) scale(1.0,1.12)" text-anchor="end" class="tk">80</text>
<line x1="491.00" y1="230.80" x2="494.30" y2="230.80" stroke="#888" stroke-width="1"/>
<text transform="translate(490.10,234.20) scale(1.0,1.12)" text-anchor="end" class="tk">100</text>
<line x1="494.30" y1="402.40" x2="494.30" y2="405.60" stroke="#aaa" stroke-width="1"/>
<text transform="translate(494.30,413.90) scale(1.0,1.12)" text-anchor="middle" class="tk">6</text>
<line x1="504.32" y1="402.40" x2="504.32" y2="405.60" stroke="#aaa" stroke-width="1"/>
<text transform="translate(504.32,413.90) scale(1.0,1.12)" text-anchor="middle" class="tk">10</text>
<line x1="529.36" y1="402.40" x2="529.36" y2="405.60" stroke="#aaa" stroke-width="1"/>
<text transform="translate(529.36,413.90) scale(1.0,1.12)" text-anchor="middle" class="tk">20</text>
<line x1="554.40" y1="402.40" x2="554.40" y2="405.60" stroke="#aaa" stroke-width="1"/>
<text transform="translate(554.40,413.90) scale(1.0,1.12)" text-anchor="middle" class="tk">30</text>
<line x1="579.44" y1="402.40" x2="579.44" y2="405.60" stroke="#aaa" stroke-width="1"/>
<text transform="translate(579.44,413.90) scale(1.0,1.12)" text-anchor="middle" class="tk">40</text>
<line x1="604.48" y1="402.40" x2="604.48" y2="405.60" stroke="#aaa" stroke-width="1"/>
<text transform="translate(604.48,413.90) scale(1.0,1.12)" text-anchor="middle" class="tk">50</text>
<line x1="629.52" y1="402.40" x2="629.52" y2="405.60" stroke="#aaa" stroke-width="1"/>
<text transform="translate(629.52,413.90) scale(1.0,1.12)" text-anchor="middle" class="tk">60</text>
<line x1="654.56" y1="402.40" x2="654.56" y2="405.60" stroke="#aaa" stroke-width="1"/>
<text transform="translate(654.56,413.90) scale(1.0,1.12)" text-anchor="middle" class="tk">70</text>
<line x1="679.60" y1="402.40" x2="679.60" y2="405.60" stroke="#aaa" stroke-width="1"/>
<text transform="translate(679.60,413.90) scale(1.0,1.12)" text-anchor="middle" class="tk">80</text>
<text transform="translate(586.95,423.80) scale(1.0,1.06)" text-anchor="middle" class="lab">Age (yr)</text>
<text transform="translate(10.10,316.50) rotate(-90) scale(1.03,1.0)" text-anchor="middle" class="lab">Proportion (%)</text>
<rect x="219.20" y="430.1" width="6.3" height="8.4" fill="#dc82c8"/>
<text transform="translate(228.20,438.10) scale(1.0,1.06)" class="lab">Obesity</text>
<rect x="264.90" y="430.1" width="6.3" height="8.4" fill="#fdc1cf"/>
<text transform="translate(273.90,438.10) scale(1.0,1.06)" class="lab">Overweight</text>
<rect x="328.10" y="430.1" width="6.3" height="8.4" fill="#b4cbeb"/>
<text transform="translate(337.10,438.10) scale(1.0,1.06)" class="lab">Normal weight</text>
<rect x="404.00" y="430.1" width="6.3" height="8.4" fill="#3d87c6"/>
<text transform="translate(413.00,438.10) scale(1.0,1.06)" class="lab">Underweight</text>
</svg>
</body></html>
